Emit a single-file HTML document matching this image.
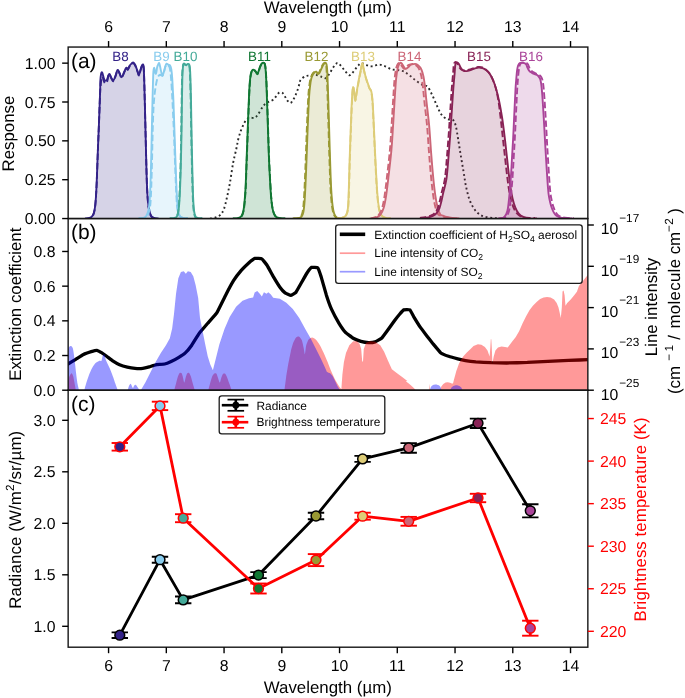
<!DOCTYPE html>
<html lang="en">
<head>
<meta charset="utf-8">
<title>Figure</title>
<style>html,body{margin:0;padding:0;background:#fff}svg{display:block}</style>
</head>
<body>
<svg width="685" height="698" viewBox="0 0 685 698" font-family='"Liberation Sans", Arial, Helvetica, sans-serif' text-rendering="geometricPrecision">
<rect x="0" y="0" width="685" height="698" fill="#fff"/>
<defs>
<clipPath id="ca"><rect x="68.15" y="47.05" width="519.7" height="171.5"/></clipPath>
<clipPath id="cb"><rect x="68.15" y="218.55" width="519.7" height="171.65"/></clipPath>
<clipPath id="cc"><rect x="68.15" y="390.2" width="519.7" height="257"/></clipPath>
</defs>
<g clip-path="url(#ca)">
<path d="M210.04,218.61 C210.87,218.44 213.38,218.19 215.05,217.6 C216.73,217.02 218.61,216.48 220.07,215.1 C221.53,213.72 222.66,212.38 223.83,209.33 C225,206.27 226.05,201.38 227.09,196.78 C228.14,192.18 229.1,187.37 230.11,181.73 C231.11,176.08 232.08,168.37 233.12,162.91 C234.15,157.46 235.44,152.97 236.3,149 C237.16,145.03 237.53,142.17 238.3,139.1 C239.07,136.03 239.88,133.33 240.9,130.6 C241.92,127.87 243.3,124.67 244.4,122.7 C245.5,120.73 246.45,119.62 247.5,118.8 C248.55,117.98 249.5,117.97 250.7,117.8 C251.9,117.63 253.48,118.37 254.7,117.8 C255.92,117.23 256.68,116.22 258,114.4 C259.32,112.58 261.3,108.73 262.6,106.9 C263.9,105.07 264.72,104.27 265.8,103.4 C266.88,102.53 267.88,102.32 269.1,101.7 C270.32,101.08 271.88,100.65 273.1,99.7 C274.32,98.75 275.38,97.17 276.4,96 C277.42,94.83 278.22,93.25 279.2,92.7 C280.18,92.15 281.35,92.08 282.3,92.7 C283.25,93.32 284.07,95.12 284.9,96.4 C285.73,97.68 286.38,99.3 287.3,100.4 C288.22,101.5 289.42,103.12 290.4,103 C291.38,102.88 292.37,100.95 293.2,99.7 C294.03,98.45 294.7,97.03 295.4,95.5 C296.1,93.97 296.73,92.43 297.4,90.5 C298.07,88.57 298.85,85.68 299.4,83.9 C299.95,82.12 299.68,81.08 300.7,79.8 C301.72,78.52 303.92,76.92 305.5,76.2 C307.08,75.48 308.42,75.7 310.2,75.5 C311.98,75.3 314.22,74.75 316.2,75 C318.18,75.25 320.52,76.48 322.1,77 C323.68,77.52 324.5,78.62 325.7,78.1 C326.9,77.58 328.1,75.6 329.3,73.9 C330.5,72.2 331.78,69.57 332.9,67.9 C334.02,66.23 335.14,64.71 336,63.9 C336.86,63.09 337.18,62.66 338.06,63.06 C338.95,63.47 340.15,64.99 341.32,66.32 C342.5,67.66 343.83,69.63 345.09,71.09 C346.34,72.55 347.81,74.6 348.85,75.11 C349.9,75.61 350.4,74.94 351.36,74.1 C352.32,73.27 353.49,71.51 354.62,70.09 C355.75,68.67 357,66.74 358.13,65.57 C359.26,64.4 360.02,63.15 361.39,63.06 C362.77,62.98 364.61,64.53 366.41,65.07 C368.21,65.61 370.09,66.41 372.18,66.32 C374.27,66.24 376.78,64.57 378.96,64.57 C381.13,64.57 383.14,65.53 385.23,66.32 C387.32,67.12 389.41,68.71 391.5,69.34 C393.59,69.96 395.68,69.71 397.77,70.09 C399.86,70.46 401.95,70.59 404.04,71.59 C406.13,72.6 408.23,74.52 410.32,76.11 C412.41,77.7 414.5,79.62 416.59,81.13 C418.68,82.63 421.04,84.21 422.86,85.14 C424.68,86.07 425.96,85.09 427.5,86.7 C429.04,88.31 430.55,91.7 432.1,94.8 C433.65,97.9 435.25,102.02 436.8,105.3 C438.35,108.58 439.67,112.18 441.4,114.5 C443.13,116.82 445.27,118.3 447.2,119.2 C449.13,120.1 451.57,118.75 453,119.9 C454.43,121.05 454.95,122.93 455.8,126.1 C456.65,129.27 457.28,134.07 458.1,138.9 C458.92,143.73 459.8,149.68 460.7,155.1 C461.6,160.52 462.65,166.37 463.5,171.4 C464.35,176.43 464.83,180.67 465.8,185.3 C466.77,189.93 467.95,195.33 469.3,199.2 C470.65,203.07 472.37,206.1 473.9,208.5 C475.43,210.9 476.77,212.25 478.5,213.6 C480.23,214.95 481.97,215.88 484.3,216.6 C486.63,217.32 489.88,217.62 492.5,217.9 C495.12,218.18 498.75,218.23 500,218.3" fill="none" stroke="#2a2a2a" stroke-width="1.9" stroke-dasharray="1.9 2.75" stroke-linecap="butt"/>
<path d="M85,218.4 C85.77,218.32 88.32,218.38 89.6,217.9 C90.88,217.42 91.87,216.88 92.7,215.5 C93.53,214.12 94.08,212.37 94.6,209.6 C95.12,206.83 95.45,203.47 95.8,198.9 C96.15,194.33 96.43,188.17 96.7,182.2 C96.97,176.23 97.17,169.45 97.4,163.1 C97.63,156.75 97.85,150.45 98.1,144.1 C98.35,137.75 98.65,131.35 98.9,125 C99.15,118.65 99.38,111.83 99.6,106 C99.82,100.17 100.09,93.98 100.2,90 C100.31,86.02 100.1,84.77 100.24,82.12 C100.38,79.47 100.72,75.69 101.04,74.09 C101.37,72.48 101.71,71.81 102.17,72.48 C102.62,73.15 103.29,76.77 103.77,78.1 C104.26,79.44 104.52,80.24 105.06,80.51 C105.59,80.78 106.45,80.51 106.99,79.71 C107.52,78.91 107.84,76.63 108.27,75.69 C108.7,74.76 109.02,73.69 109.56,74.09 C110.09,74.49 110.84,77.03 111.48,78.1 C112.13,79.17 112.74,80.91 113.41,80.51 C114.08,80.11 114.81,77.43 115.5,75.69 C116.18,73.95 116.87,70.61 117.51,70.07 C118.15,69.54 118.66,71.28 119.35,72.48 C120.04,73.69 120.88,77.3 121.65,77.3 C122.42,77.3 123.18,74.09 123.95,72.48 C124.71,70.88 125.61,68.2 126.25,67.67 C126.89,67.13 127.27,69.54 127.79,69.27 C128.32,69 128.79,67 129.4,66.06 C130.02,65.12 130.82,64.24 131.49,63.65 C132.16,63.06 132.77,62.26 133.42,62.53 C134.06,62.79 134.67,63.86 135.34,65.26 C136.01,66.65 136.81,69.27 137.43,70.88 C138.05,72.48 138.5,75.16 139.04,74.89 C139.57,74.62 140.11,70.96 140.64,69.27 C141.18,67.58 141.77,65.31 142.25,64.77 C142.73,64.24 143.22,63.95 143.53,66.06 C143.85,68.16 143.93,71.14 144.15,77.4 C144.37,83.66 144.62,94.47 144.85,103.6 C145.08,112.73 145.32,122.67 145.55,132.2 C145.78,141.73 146.02,152.07 146.25,160.8 C146.48,169.53 146.67,177.87 146.95,184.6 C147.23,191.33 147.55,196.83 147.95,201.2 C148.35,205.57 148.8,208.33 149.35,210.8 C149.9,213.27 150.47,214.82 151.25,216 C152.03,217.18 152.85,217.5 154.05,217.9 C155.25,218.3 157.72,218.32 158.45,218.4 L158.45,218.55 L85,218.55 Z" fill="#332288" fill-opacity="0.2" stroke="none"/>
<path d="M138.5,218.3 C139.17,218.25 141.27,218.3 142.5,218 C143.73,217.7 144.9,217.83 145.9,216.5 C146.9,215.17 147.85,213.08 148.5,210 C149.15,206.92 149.4,204.67 149.8,198 C150.2,191.33 150.58,180.5 150.9,170 C151.22,159.5 151.43,146.67 151.7,135 C151.97,123.33 152.28,108.83 152.5,100 C152.72,91.17 152.85,86.75 153,82 C153.15,77.25 153.18,73.87 153.4,71.5 C153.62,69.13 153.97,67.47 154.3,67.8 C154.63,68.13 155.07,72.72 155.4,73.5 C155.73,74.28 156.01,73.52 156.3,72.5 C156.59,71.48 156.83,68.68 157.11,67.4 C157.4,66.12 157.7,65.53 158.04,64.8 C158.38,64.07 158.82,62.72 159.17,63 C159.51,63.28 159.75,65.03 160.09,66.5 C160.43,67.97 160.81,70.27 161.22,71.8 C161.62,73.33 162.1,75.7 162.55,75.7 C162.99,75.7 163.44,73.33 163.88,71.8 C164.32,70.27 164.77,67.85 165.21,66.5 C165.66,65.15 166.02,63.98 166.55,63.7 C167.07,63.42 167.8,64.48 168.39,64.8 C168.98,65.12 169.62,64.88 170.1,65.6 C170.59,66.32 170.95,67.05 171.3,69.1 C171.65,71.15 171.93,74.25 172.2,77.9 C172.47,81.55 172.7,87.32 172.9,91 C173.1,94.68 173.12,92.67 173.4,100 C173.68,107.33 174.2,123.33 174.6,135 C175,146.67 175.4,159.5 175.8,170 C176.2,180.5 176.6,191.08 177,198 C177.4,204.92 177.63,208.4 178.2,211.5 C178.77,214.6 179.47,215.52 180.4,216.6 C181.33,217.68 182.57,217.72 183.8,218 C185.03,218.28 187.13,218.25 187.8,218.3 L187.8,218.55 L138.5,218.55 Z" fill="#88CCEE" fill-opacity="0.2" stroke="none"/>
<path d="M169.8,218.3 C170.47,218.27 172.65,218.37 173.8,218.1 C174.95,217.83 175.93,217.8 176.7,216.7 C177.47,215.6 177.92,214.62 178.4,211.5 C178.88,208.38 179.22,204.92 179.6,198 C179.98,191.08 180.39,180.5 180.7,170 C181.01,159.5 181.26,146.67 181.47,135 C181.68,123.33 181.81,109.5 181.95,100 C182.1,90.5 182.18,83.43 182.34,78 C182.5,72.57 182.68,69.8 182.92,67.4 C183.16,65 183.4,64.12 183.78,63.6 C184.17,63.08 184.76,64.1 185.23,64.3 C185.69,64.5 186.14,64.87 186.58,64.8 C187.01,64.73 187.41,63.98 187.83,63.9 C188.24,63.82 188.74,63.72 189.08,64.3 C189.41,64.88 189.62,65.12 189.85,67.4 C190.07,69.68 190.23,72.57 190.42,78 C190.62,83.43 190.81,90.5 191,100 C191.19,109.5 191.36,123.33 191.58,135 C191.8,146.67 192.09,159.5 192.35,170 C192.61,180.5 192.85,191.08 193.15,198 C193.45,204.92 193.73,208.38 194.15,211.5 C194.57,214.62 194.95,215.6 195.65,216.7 C196.35,217.8 197.23,217.83 198.35,218.1 C199.47,218.37 201.68,218.27 202.35,218.3 L202.35,218.55 L169.8,218.55 Z" fill="#44AA99" fill-opacity="0.2" stroke="none"/>
<path d="M232.8,218.5 C233.65,218.45 236.45,218.62 237.9,218.2 C239.35,217.78 240.58,217.23 241.5,216 C242.42,214.77 242.88,213.27 243.4,210.8 C243.92,208.33 244.23,205.17 244.6,201.2 C244.97,197.23 245.32,192.55 245.6,187 C245.88,181.45 246.07,174.25 246.3,167.9 C246.53,161.55 246.77,155.25 247,148.9 C247.23,142.55 247.47,136.15 247.7,129.8 C247.93,123.45 248.17,116.75 248.4,110.8 C248.63,104.85 248.87,98.87 249.1,94.1 C249.33,89.33 249.52,85.57 249.8,82.2 C250.08,78.83 250.4,75.88 250.8,73.9 C251.2,71.92 251.69,70.98 252.2,70.3 C252.71,69.62 253.28,69.6 253.86,69.8 C254.44,70 255.11,70.82 255.69,71.5 C256.26,72.18 256.83,74.02 257.32,73.9 C257.82,73.78 258.22,72 258.67,70.8 C259.12,69.6 259.52,67.9 260.02,66.7 C260.52,65.5 261.11,64.27 261.65,63.6 C262.2,62.93 262.79,62.7 263.29,62.7 C263.79,62.7 264.27,62.53 264.65,63.6 C265.03,64.67 265.27,66 265.55,69.1 C265.83,72.2 266.1,76.85 266.35,82.2 C266.6,87.55 266.82,94.45 267.05,101.2 C267.28,107.95 267.52,115.55 267.75,122.7 C267.98,129.85 268.22,137.37 268.45,144.1 C268.68,150.83 268.87,156.75 269.15,163.1 C269.43,169.45 269.83,176.63 270.15,182.2 C270.47,187.77 270.7,192.33 271.05,196.5 C271.4,200.67 271.77,204.35 272.25,207.2 C272.73,210.05 273.27,211.97 273.95,213.6 C274.63,215.23 275.28,216.23 276.35,217 C277.42,217.77 278.85,217.95 280.35,218.2 C281.85,218.45 284.52,218.45 285.35,218.5 L285.35,218.55 L232.8,218.55 Z" fill="#117733" fill-opacity="0.2" stroke="none"/>
<path d="M293.5,218.5 C294.35,218.45 297.27,218.5 298.6,218.2 C299.93,217.9 300.7,217.73 301.5,216.7 C302.3,215.67 302.88,214.58 303.4,212 C303.92,209.42 304.25,205.77 304.6,201.2 C304.95,196.63 305.22,190.55 305.5,184.6 C305.78,178.65 306.05,171.85 306.3,165.5 C306.55,159.15 306.77,152.85 307,146.5 C307.23,140.15 307.47,133.35 307.7,127.4 C307.93,121.45 308.17,115.95 308.4,110.8 C308.63,105.65 308.82,100.67 309.1,96.5 C309.38,92.33 309.73,88.78 310.1,85.8 C310.47,82.82 310.84,80.47 311.3,78.6 C311.76,76.73 312.32,75.67 312.88,74.6 C313.45,73.53 314.13,72.68 314.7,72.2 C315.28,71.72 315.79,71.47 316.33,71.7 C316.88,71.93 317.47,73.37 317.96,73.6 C318.46,73.83 318.86,73.65 319.3,73.1 C319.75,72.55 320.15,71.37 320.65,70.3 C321.14,69.23 321.73,67.77 322.28,66.7 C322.82,65.63 323.4,64.57 323.9,63.9 C324.41,63.23 324.87,62.63 325.3,62.7 C325.73,62.77 326.18,63.03 326.5,64.3 C326.82,65.57 327,67.32 327.2,70.3 C327.4,73.28 327.5,76.65 327.7,82.2 C327.9,87.75 328.17,96.07 328.4,103.6 C328.63,111.13 328.87,119.47 329.1,127.4 C329.33,135.33 329.57,143.65 329.8,151.2 C330.03,158.75 330.27,166.35 330.5,172.7 C330.73,179.05 330.92,184.35 331.2,189.3 C331.48,194.25 331.83,198.82 332.2,202.4 C332.57,205.98 332.93,208.62 333.4,210.8 C333.87,212.98 334.33,214.32 335,215.5 C335.67,216.68 336.23,217.4 337.4,217.9 C338.57,218.4 341.23,218.4 342,218.5 L342,218.55 L293.5,218.55 Z" fill="#999933" fill-opacity="0.2" stroke="none"/>
<path d="M336.9,218.4 C337.7,218.32 340.2,218.38 341.7,217.9 C343.2,217.42 344.87,217.08 345.9,215.5 C346.93,213.92 347.42,212.77 347.9,208.4 C348.38,204.03 348.52,197.23 348.8,189.3 C349.08,181.37 349.3,170.32 349.6,160.8 C349.9,151.28 350.28,140.93 350.6,132.2 C350.92,123.47 351.2,115.15 351.5,108.4 C351.8,101.65 352.13,95.27 352.4,91.7 C352.67,88.13 352.83,87 353.1,87 C353.37,87 353.65,89.4 354,91.7 C354.35,94 354.75,100.8 355.2,100.8 C355.65,100.8 356.1,95.2 356.7,91.7 C357.3,88.2 358.13,83.37 358.8,79.8 C359.47,76.23 360.1,73.05 360.7,70.3 C361.3,67.55 361.88,63.5 362.4,63.3 C362.92,63.1 363.28,66.95 363.8,69.1 C364.32,71.25 364.9,74.02 365.5,76.2 C366.1,78.38 366.73,80.22 367.4,82.2 C368.07,84.18 368.83,86.52 369.5,88.1 C370.17,89.68 370.88,89.52 371.4,91.7 C371.92,93.88 372.23,96.43 372.6,101.2 C372.97,105.97 373.23,112.75 373.6,120.3 C373.97,127.85 374.37,137.38 374.8,146.5 C375.23,155.62 375.73,166.67 376.2,175 C376.67,183.33 377.08,190.73 377.6,196.5 C378.12,202.27 378.62,206.43 379.3,209.6 C379.98,212.77 380.63,214.12 381.7,215.5 C382.77,216.88 384.17,217.42 385.7,217.9 C387.23,218.38 390.03,218.32 390.9,218.4 L390.9,218.55 L336.9,218.55 Z" fill="#DDCC77" fill-opacity="0.2" stroke="none"/>
<path d="M371.33,218.61 C372.29,218.36 375.55,217.81 377.1,217.1 C378.65,216.39 379.53,215.85 380.61,214.34 C381.7,212.84 382.7,211.21 383.62,208.07 C384.54,204.93 385.3,200.96 386.13,195.53 C386.97,190.09 387.76,182.98 388.63,175.46 C389.51,167.93 390.64,158.73 391.38,150.37 C392.13,142.01 392.56,133.64 393.1,125.28 C393.64,116.92 394.1,107.93 394.61,100.19 C395.11,92.46 395.57,84.3 396.11,78.87 C396.65,73.43 397.28,70.13 397.87,67.58 C398.45,65.03 399.04,64.32 399.62,63.56 C400.21,62.81 400.75,62.65 401.38,63.06 C402.01,63.48 402.69,65.11 403.39,66.07 C404.08,67.04 404.8,68.58 405.54,68.83 C406.27,69.08 406.96,68.21 407.78,67.58 C408.61,66.95 409.54,65.66 410.48,65.07 C411.42,64.48 412.45,64.23 413.4,64.07 C414.35,63.9 415.26,63.73 416.19,64.07 C417.11,64.4 418.07,65.15 418.95,66.07 C419.82,66.99 420.7,67.87 421.45,69.59 C422.21,71.3 422.88,73.56 423.46,76.36 C424.05,79.16 424.46,82.21 424.97,86.39 C425.47,90.58 425.78,94.97 426.47,101.45 C427.16,107.93 428.35,116.71 429.13,125.28 C429.9,133.85 430.47,144.31 431.13,152.88 C431.8,161.45 432.47,169.81 433.14,176.71 C433.81,183.61 434.44,189.25 435.15,194.27 C435.86,199.29 436.57,203.47 437.41,206.82 C438.24,210.16 439.26,212.88 440.17,214.34 C441.07,215.81 441.75,215.16 442.85,215.6 C443.95,216.04 445.18,216.62 446.75,217 C448.32,217.38 450.17,217.67 452.25,217.9 C454.33,218.13 458.08,218.32 459.25,218.4 L459.25,218.55 L371.33,218.55 Z" fill="#CC6677" fill-opacity="0.2" stroke="none"/>
<path d="M421.4,218.5 C422.32,218.38 425,218.22 426.9,217.8 C428.8,217.38 431.18,216.78 432.8,216 C434.42,215.22 435.48,214.42 436.6,213.1 C437.72,211.78 438.68,210.15 439.5,208.1 C440.32,206.05 440.88,203.32 441.5,200.8 C442.12,198.28 442.38,196.6 443.2,193 C444.02,189.4 445.54,185.07 446.41,179.22 C447.28,173.37 447.79,165.21 448.42,157.9 C449.05,150.58 449.63,142.84 450.18,135.32 C450.72,127.79 451.18,120.26 451.68,112.74 C452.18,105.21 452.69,96.85 453.19,90.16 C453.69,83.47 454.32,76.86 454.69,72.6 C455.06,68.33 454.99,66.24 455.4,64.57 C455.81,62.9 456.57,62.65 457.15,62.56 C457.74,62.48 458.28,63.15 458.91,64.07 C459.54,64.99 460.16,66.99 460.92,68.08 C461.67,69.17 462.46,70.09 463.43,70.59 C464.39,71.09 465.52,71.17 466.69,71.09 C467.86,71.01 469.15,70.51 470.45,70.09 C471.75,69.67 473.1,69 474.48,68.58 C475.86,68.16 477.38,67.66 478.73,67.58 C480.07,67.5 481.32,67.66 482.55,68.08 C483.77,68.5 484.89,69.17 486.06,70.09 C487.23,71.01 488.4,71.93 489.57,73.6 C490.74,75.27 491.95,77.45 493.08,80.12 C494.21,82.8 495.3,85.98 496.34,89.66 C497.39,93.34 498.39,97.52 499.35,102.2 C500.32,106.88 501.24,112.03 502.11,117.75 C502.99,123.48 503.83,130.09 504.62,136.57 C505.42,143.05 506.13,149.95 506.88,156.64 C507.63,163.33 508.39,170.65 509.14,176.71 C509.89,182.77 510.6,188.54 511.4,193.02 C512.19,197.49 512.99,200.54 513.91,203.55 C514.83,206.57 515.79,209.07 516.92,211.08 C518.05,213.09 519.22,214.47 520.68,215.6 C522.14,216.73 523.94,217.35 525.7,217.85 C527.45,218.36 529.35,218.5 531.22,218.61 C533.08,218.72 535.95,218.52 536.9,218.5 L536.9,218.55 L421.4,218.55 Z" fill="#882255" fill-opacity="0.2" stroke="none"/>
<path d="M498,218.4 C498.85,218.32 501.73,218.58 503.1,217.9 C504.47,217.22 505.4,215.88 506.2,214.3 C507,212.72 507.35,211.77 507.9,208.4 C508.45,205.03 508.98,199.67 509.5,194.1 C510.02,188.53 510.57,181.35 511,175 C511.43,168.65 511.75,161.95 512.1,156 C512.45,150.05 512.78,145.25 513.1,139.3 C513.42,133.35 513.72,126.25 514,120.3 C514.28,114.35 514.55,108.77 514.8,103.6 C515.05,98.43 515.27,93.27 515.5,89.3 C515.73,85.33 515.93,82.97 516.2,79.8 C516.47,76.63 516.78,72.68 517.1,70.3 C517.42,67.92 517.65,66.7 518.1,65.5 C518.55,64.3 519.13,63.57 519.8,63.1 C520.47,62.63 521.32,62.7 522.1,62.7 C522.88,62.7 523.82,62.78 524.5,63.1 C525.18,63.42 525.68,63.8 526.2,64.6 C526.72,65.4 527.08,66.87 527.6,67.9 C528.12,68.93 528.62,70 529.3,70.8 C529.98,71.6 530.92,72.18 531.7,72.7 C532.48,73.22 533.22,73.58 534,73.9 C534.78,74.22 535.68,74.25 536.4,74.6 C537.12,74.95 537.7,75.33 538.3,76 C538.9,76.67 539.55,77.48 540,78.6 C540.45,79.72 540.72,81.12 541,82.7 C541.28,84.28 541.47,85.8 541.7,88.1 C541.93,90.4 542.17,93.32 542.4,96.5 C542.63,99.68 542.78,102.05 543.1,107.2 C543.42,112.35 543.95,121.25 544.3,127.4 C544.65,133.55 544.88,138.53 545.2,144.1 C545.52,149.67 545.83,154.85 546.2,160.8 C546.57,166.75 547,174.25 547.4,179.8 C547.8,185.35 548.13,190.32 548.6,194.1 C549.07,197.88 549.63,200.1 550.2,202.5 C550.77,204.9 551.37,206.78 552,208.5 C552.63,210.22 553.25,211.58 554,212.8 C554.75,214.02 555.42,215 556.5,215.8 C557.58,216.6 558.92,217.18 560.5,217.6 C562.08,218.02 564.08,218.15 566,218.3 C567.92,218.45 571,218.47 572,218.5 L572,218.55 L498,218.55 Z" fill="#AA4499" fill-opacity="0.2" stroke="none"/>
<path d="M85,218.4 C85.77,218.32 88.32,218.38 89.6,217.9 C90.88,217.42 91.87,216.88 92.7,215.5 C93.53,214.12 94.08,212.37 94.6,209.6 C95.12,206.83 95.45,203.47 95.8,198.9 C96.15,194.33 96.43,188.17 96.7,182.2 C96.97,176.23 97.17,169.45 97.4,163.1 C97.63,156.75 97.85,150.45 98.1,144.1 C98.35,137.75 98.65,131.35 98.9,125 C99.15,118.65 99.38,111.83 99.6,106 C99.82,100.17 100.09,93.98 100.2,90 C100.31,86.02 100.1,84.77 100.24,82.12 C100.38,79.47 100.72,75.69 101.04,74.09 C101.37,72.48 101.71,71.81 102.17,72.48 C102.62,73.15 103.29,76.77 103.77,78.1 C104.26,79.44 104.52,80.24 105.06,80.51 C105.59,80.78 106.45,80.51 106.99,79.71 C107.52,78.91 107.84,76.63 108.27,75.69 C108.7,74.76 109.02,73.69 109.56,74.09 C110.09,74.49 110.84,77.03 111.48,78.1 C112.13,79.17 112.74,80.91 113.41,80.51 C114.08,80.11 114.81,77.43 115.5,75.69 C116.18,73.95 116.87,70.61 117.51,70.07 C118.15,69.54 118.66,71.28 119.35,72.48 C120.04,73.69 120.88,77.3 121.65,77.3 C122.42,77.3 123.18,74.09 123.95,72.48 C124.71,70.88 125.61,68.2 126.25,67.67 C126.89,67.13 127.27,69.54 127.79,69.27 C128.32,69 128.79,67 129.4,66.06 C130.02,65.12 130.82,64.24 131.49,63.65 C132.16,63.06 132.77,62.26 133.42,62.53 C134.06,62.79 134.67,63.86 135.34,65.26 C136.01,66.65 136.81,69.27 137.43,70.88 C138.05,72.48 138.5,75.16 139.04,74.89 C139.57,74.62 140.11,70.96 140.64,69.27 C141.18,67.58 141.77,65.31 142.25,64.77 C142.73,64.24 143.22,63.95 143.53,66.06 C143.85,68.16 143.93,71.14 144.15,77.4 C144.37,83.66 144.62,94.47 144.85,103.6 C145.08,112.73 145.32,122.67 145.55,132.2 C145.78,141.73 146.02,152.07 146.25,160.8 C146.48,169.53 146.67,177.87 146.95,184.6 C147.23,191.33 147.55,196.83 147.95,201.2 C148.35,205.57 148.8,208.33 149.35,210.8 C149.9,213.27 150.47,214.82 151.25,216 C152.03,217.18 152.85,217.5 154.05,217.9 C155.25,218.3 157.72,218.32 158.45,218.4" fill="none" stroke="#332288" stroke-width="1.9" stroke-linejoin="round"/>
<path d="M85,219 C85.77,218.92 88.32,218.98 89.6,218.5 C90.88,218.02 91.87,217.48 92.7,216.1 C93.53,214.72 94.08,212.97 94.6,210.2 C95.12,207.43 95.45,204.07 95.8,199.5 C96.15,194.93 96.43,188.77 96.7,182.8 C96.97,176.83 97.17,170.05 97.4,163.7 C97.63,157.35 97.85,151.05 98.1,144.7 C98.35,138.35 98.65,131.95 98.9,125.6 C99.15,119.25 99.38,112.43 99.6,106.6 C99.82,100.77 100.04,93.75 100.2,90.6 C100.36,87.45 100.35,89.58 100.54,87.67 C100.73,85.77 101.02,80.96 101.34,79.16 C101.67,77.36 102.01,76.49 102.47,76.88 C102.92,77.28 103.59,80.49 104.07,81.54 C104.56,82.59 104.82,83.23 105.36,83.18 C105.89,83.12 106.8,82.36 107.29,81.22 C107.77,80.07 107.89,77.38 108.27,76.29 C108.65,75.21 109.02,74.29 109.56,74.69 C110.09,75.09 110.84,77.63 111.48,78.7 C112.13,79.77 112.74,81.51 113.41,81.11 C114.08,80.71 114.81,78.03 115.5,76.29 C116.18,74.55 116.87,71.21 117.51,70.67 C118.15,70.14 118.66,71.88 119.35,73.08 C120.04,74.29 120.88,77.9 121.65,77.9 C122.42,77.9 123.18,74.69 123.95,73.08 C124.71,71.48 125.61,68.8 126.25,68.27 C126.89,67.73 127.27,70.14 127.79,69.87 C128.32,69.6 128.79,67.6 129.4,66.66 C130.02,65.72 130.82,64.84 131.49,64.25 C132.16,63.66 132.77,62.86 133.42,63.13 C134.06,63.39 134.67,64.46 135.34,65.86 C136.01,67.25 136.81,69.87 137.43,71.48 C138.05,73.08 138.5,75.76 139.04,75.49 C139.57,75.22 140.11,71.56 140.64,69.87 C141.18,68.18 141.77,65.91 142.25,65.37 C142.73,64.84 143.22,64.55 143.53,66.66 C143.85,68.76 143.93,71.74 144.15,78 C144.37,84.26 144.62,95.07 144.85,104.2 C145.08,113.33 145.32,123.27 145.55,132.8 C145.78,142.33 146.02,152.67 146.25,161.4 C146.48,170.13 146.67,178.47 146.95,185.2 C147.23,191.93 147.55,197.43 147.95,201.8 C148.35,206.17 148.8,208.93 149.35,211.4 C149.9,213.87 150.47,215.42 151.25,216.6 C152.03,217.78 152.85,218.1 154.05,218.5 C155.25,218.9 157.72,218.92 158.45,219" fill="none" stroke="#332288" stroke-width="1.9" stroke-dasharray="6.5 2.8" stroke-linejoin="round"/>
<path d="M138.5,218.3 C139.17,218.25 141.27,218.3 142.5,218 C143.73,217.7 144.9,217.83 145.9,216.5 C146.9,215.17 147.85,213.08 148.5,210 C149.15,206.92 149.4,204.67 149.8,198 C150.2,191.33 150.58,180.5 150.9,170 C151.22,159.5 151.43,146.67 151.7,135 C151.97,123.33 152.28,108.83 152.5,100 C152.72,91.17 152.85,86.75 153,82 C153.15,77.25 153.18,73.87 153.4,71.5 C153.62,69.13 153.97,67.47 154.3,67.8 C154.63,68.13 155.07,72.72 155.4,73.5 C155.73,74.28 156.01,73.52 156.3,72.5 C156.59,71.48 156.83,68.68 157.11,67.4 C157.4,66.12 157.7,65.53 158.04,64.8 C158.38,64.07 158.82,62.72 159.17,63 C159.51,63.28 159.75,65.03 160.09,66.5 C160.43,67.97 160.81,70.27 161.22,71.8 C161.62,73.33 162.1,75.7 162.55,75.7 C162.99,75.7 163.44,73.33 163.88,71.8 C164.32,70.27 164.77,67.85 165.21,66.5 C165.66,65.15 166.02,63.98 166.55,63.7 C167.07,63.42 167.8,64.48 168.39,64.8 C168.98,65.12 169.62,64.88 170.1,65.6 C170.59,66.32 170.95,67.05 171.3,69.1 C171.65,71.15 171.93,74.25 172.2,77.9 C172.47,81.55 172.7,87.32 172.9,91 C173.1,94.68 173.12,92.67 173.4,100 C173.68,107.33 174.2,123.33 174.6,135 C175,146.67 175.4,159.5 175.8,170 C176.2,180.5 176.6,191.08 177,198 C177.4,204.92 177.63,208.4 178.2,211.5 C178.77,214.6 179.47,215.52 180.4,216.6 C181.33,217.68 182.57,217.72 183.8,218 C185.03,218.28 187.13,218.25 187.8,218.3" fill="none" stroke="#88CCEE" stroke-width="1.9" stroke-linejoin="round"/>
<path d="M139.5,218.3 C140.17,218.25 142.27,218.3 143.5,218 C144.73,217.7 145.9,217.83 146.9,216.5 C147.9,215.17 148.85,213.08 149.5,210 C150.15,206.92 150.42,204.67 150.8,198 C151.18,191.33 151.5,180.5 151.8,170 C152.1,159.5 152.33,145 152.6,135 C152.87,125 153.08,116.6 153.4,110 C153.72,103.4 154.1,99.43 154.5,95.4 C154.9,91.37 155.37,88.43 155.8,85.8 C156.23,83.17 156.65,81.22 157.1,79.6 C157.55,77.98 157.98,76.9 158.5,76.1 C159.02,75.3 159.55,74.87 160.2,74.8 C160.85,74.73 161.77,76.2 162.4,75.7 C163.03,75.2 163.52,73.25 164,71.8 C164.48,70.35 164.87,68.13 165.3,67 C165.73,65.87 166.08,65.2 166.6,65 C167.12,64.8 167.9,65.38 168.4,65.8 C168.9,66.22 169.27,66.47 169.6,67.5 C169.93,68.53 170.13,69.92 170.4,72 C170.67,74.08 170.93,76.5 171.2,80 C171.47,83.5 171.75,88.67 172,93 C172.25,97.33 172.37,99 172.7,106 C173.03,113 173.57,124.33 174,135 C174.43,145.67 174.88,159.5 175.3,170 C175.72,180.5 176.08,191.08 176.5,198 C176.92,204.92 177.22,208.4 177.8,211.5 C178.38,214.6 179,215.52 180,216.6 C181,217.68 182.5,217.72 183.8,218 C185.1,218.28 187.13,218.25 187.8,218.3" fill="none" stroke="#88CCEE" stroke-width="1.9" stroke-dasharray="6.5 2.8" stroke-linejoin="round"/>
<path d="M169.8,218.3 C170.47,218.27 172.65,218.37 173.8,218.1 C174.95,217.83 175.93,217.8 176.7,216.7 C177.47,215.6 177.92,214.62 178.4,211.5 C178.88,208.38 179.22,204.92 179.6,198 C179.98,191.08 180.39,180.5 180.7,170 C181.01,159.5 181.26,146.67 181.47,135 C181.68,123.33 181.81,109.5 181.95,100 C182.1,90.5 182.18,83.43 182.34,78 C182.5,72.57 182.68,69.8 182.92,67.4 C183.16,65 183.4,64.12 183.78,63.6 C184.17,63.08 184.76,64.1 185.23,64.3 C185.69,64.5 186.14,64.87 186.58,64.8 C187.01,64.73 187.41,63.98 187.83,63.9 C188.24,63.82 188.74,63.72 189.08,64.3 C189.41,64.88 189.62,65.12 189.85,67.4 C190.07,69.68 190.23,72.57 190.42,78 C190.62,83.43 190.81,90.5 191,100 C191.19,109.5 191.36,123.33 191.58,135 C191.8,146.67 192.09,159.5 192.35,170 C192.61,180.5 192.85,191.08 193.15,198 C193.45,204.92 193.73,208.38 194.15,211.5 C194.57,214.62 194.95,215.6 195.65,216.7 C196.35,217.8 197.23,217.83 198.35,218.1 C199.47,218.37 201.68,218.27 202.35,218.3" fill="none" stroke="#44AA99" stroke-width="1.9" stroke-linejoin="round"/>
<path d="M169.5,218.8 C170.17,218.77 172.35,218.87 173.5,218.6 C174.65,218.33 175.63,218.3 176.4,217.2 C177.17,216.1 177.62,215.12 178.1,212 C178.58,208.88 178.92,205.42 179.3,198.5 C179.68,191.58 180.09,181 180.4,170.5 C180.71,160 180.96,147.17 181.17,135.5 C181.38,123.83 181.51,110 181.65,100.5 C181.8,91 181.88,83.93 182.04,78.5 C182.2,73.07 182.38,70.3 182.62,67.9 C182.86,65.5 183.1,64.62 183.48,64.1 C183.87,63.58 184.46,64.6 184.93,64.8 C185.39,65 185.84,65.37 186.28,65.3 C186.71,65.23 187.11,64.48 187.53,64.4 C187.94,64.32 188.44,64.22 188.78,64.8 C189.11,65.38 189.32,65.62 189.55,67.9 C189.77,70.18 189.93,73.07 190.12,78.5 C190.32,83.93 190.51,91 190.7,100.5 C190.89,110 191.06,123.83 191.28,135.5 C191.5,147.17 191.79,160 192.05,170.5 C192.31,181 192.55,191.58 192.85,198.5 C193.15,205.42 193.43,208.88 193.85,212 C194.27,215.12 194.65,216.1 195.35,217.2 C196.05,218.3 196.93,218.33 198.05,218.6 C199.17,218.87 201.38,218.77 202.05,218.8" fill="none" stroke="#44AA99" stroke-width="1.9" stroke-dasharray="6.5 2.8" stroke-linejoin="round"/>
<path d="M232.8,218.5 C233.65,218.45 236.45,218.62 237.9,218.2 C239.35,217.78 240.58,217.23 241.5,216 C242.42,214.77 242.88,213.27 243.4,210.8 C243.92,208.33 244.23,205.17 244.6,201.2 C244.97,197.23 245.32,192.55 245.6,187 C245.88,181.45 246.07,174.25 246.3,167.9 C246.53,161.55 246.77,155.25 247,148.9 C247.23,142.55 247.47,136.15 247.7,129.8 C247.93,123.45 248.17,116.75 248.4,110.8 C248.63,104.85 248.87,98.87 249.1,94.1 C249.33,89.33 249.52,85.57 249.8,82.2 C250.08,78.83 250.4,75.88 250.8,73.9 C251.2,71.92 251.69,70.98 252.2,70.3 C252.71,69.62 253.28,69.6 253.86,69.8 C254.44,70 255.11,70.82 255.69,71.5 C256.26,72.18 256.83,74.02 257.32,73.9 C257.82,73.78 258.22,72 258.67,70.8 C259.12,69.6 259.52,67.9 260.02,66.7 C260.52,65.5 261.11,64.27 261.65,63.6 C262.2,62.93 262.79,62.7 263.29,62.7 C263.79,62.7 264.27,62.53 264.65,63.6 C265.03,64.67 265.27,66 265.55,69.1 C265.83,72.2 266.1,76.85 266.35,82.2 C266.6,87.55 266.82,94.45 267.05,101.2 C267.28,107.95 267.52,115.55 267.75,122.7 C267.98,129.85 268.22,137.37 268.45,144.1 C268.68,150.83 268.87,156.75 269.15,163.1 C269.43,169.45 269.83,176.63 270.15,182.2 C270.47,187.77 270.7,192.33 271.05,196.5 C271.4,200.67 271.77,204.35 272.25,207.2 C272.73,210.05 273.27,211.97 273.95,213.6 C274.63,215.23 275.28,216.23 276.35,217 C277.42,217.77 278.85,217.95 280.35,218.2 C281.85,218.45 284.52,218.45 285.35,218.5" fill="none" stroke="#117733" stroke-width="1.9" stroke-linejoin="round"/>
<path d="M232.95,218.8 C233.8,218.75 236.6,218.92 238.05,218.5 C239.5,218.08 240.73,217.53 241.65,216.3 C242.57,215.07 243.03,213.57 243.55,211.1 C244.07,208.63 244.38,205.47 244.75,201.5 C245.12,197.53 245.47,192.85 245.75,187.3 C246.03,181.75 246.22,174.55 246.45,168.2 C246.68,161.85 246.92,155.55 247.15,149.2 C247.38,142.85 247.62,136.45 247.85,130.1 C248.08,123.75 248.32,117.05 248.55,111.1 C248.78,105.15 249.02,99.17 249.25,94.4 C249.48,89.63 249.67,85.87 249.95,82.5 C250.23,79.13 250.55,76.18 250.95,74.2 C251.35,72.22 251.84,71.28 252.35,70.6 C252.86,69.92 253.43,69.9 254.01,70.1 C254.59,70.3 255.26,71.12 255.84,71.8 C256.42,72.48 256.98,74.32 257.47,74.2 C257.97,74.08 258.37,72.3 258.82,71.1 C259.27,69.9 259.67,68.2 260.17,67 C260.67,65.8 261.26,64.57 261.8,63.9 C262.35,63.23 262.94,63 263.44,63 C263.94,63 264.42,62.83 264.8,63.9 C265.18,64.97 265.42,66.3 265.7,69.4 C265.98,72.5 266.25,77.15 266.5,82.5 C266.75,87.85 266.97,94.75 267.2,101.5 C267.43,108.25 267.67,115.85 267.9,123 C268.13,130.15 268.37,137.67 268.6,144.4 C268.83,151.13 269.02,157.05 269.3,163.4 C269.58,169.75 269.98,176.93 270.3,182.5 C270.62,188.07 270.85,192.63 271.2,196.8 C271.55,200.97 271.92,204.65 272.4,207.5 C272.88,210.35 273.42,212.27 274.1,213.9 C274.78,215.53 275.43,216.53 276.5,217.3 C277.57,218.07 279,218.25 280.5,218.5 C282,218.75 284.67,218.75 285.5,218.8" fill="none" stroke="#117733" stroke-width="1.9" stroke-dasharray="6.5 2.8" stroke-linejoin="round"/>
<path d="M293.5,218.5 C294.35,218.45 297.27,218.5 298.6,218.2 C299.93,217.9 300.7,217.73 301.5,216.7 C302.3,215.67 302.88,214.58 303.4,212 C303.92,209.42 304.25,205.77 304.6,201.2 C304.95,196.63 305.22,190.55 305.5,184.6 C305.78,178.65 306.05,171.85 306.3,165.5 C306.55,159.15 306.77,152.85 307,146.5 C307.23,140.15 307.47,133.35 307.7,127.4 C307.93,121.45 308.17,115.95 308.4,110.8 C308.63,105.65 308.82,100.67 309.1,96.5 C309.38,92.33 309.73,88.78 310.1,85.8 C310.47,82.82 310.84,80.47 311.3,78.6 C311.76,76.73 312.32,75.67 312.88,74.6 C313.45,73.53 314.13,72.68 314.7,72.2 C315.28,71.72 315.79,71.47 316.33,71.7 C316.88,71.93 317.47,73.37 317.96,73.6 C318.46,73.83 318.86,73.65 319.3,73.1 C319.75,72.55 320.15,71.37 320.65,70.3 C321.14,69.23 321.73,67.77 322.28,66.7 C322.82,65.63 323.4,64.57 323.9,63.9 C324.41,63.23 324.87,62.63 325.3,62.7 C325.73,62.77 326.18,63.03 326.5,64.3 C326.82,65.57 327,67.32 327.2,70.3 C327.4,73.28 327.5,76.65 327.7,82.2 C327.9,87.75 328.17,96.07 328.4,103.6 C328.63,111.13 328.87,119.47 329.1,127.4 C329.33,135.33 329.57,143.65 329.8,151.2 C330.03,158.75 330.27,166.35 330.5,172.7 C330.73,179.05 330.92,184.35 331.2,189.3 C331.48,194.25 331.83,198.82 332.2,202.4 C332.57,205.98 332.93,208.62 333.4,210.8 C333.87,212.98 334.33,214.32 335,215.5 C335.67,216.68 336.23,217.4 337.4,217.9 C338.57,218.4 341.23,218.4 342,218.5" fill="none" stroke="#999933" stroke-width="1.9" stroke-linejoin="round"/>
<path d="M292.7,218.5 C293.55,218.45 296.47,218.5 297.8,218.2 C299.13,217.9 299.9,217.73 300.7,216.7 C301.5,215.67 302.08,214.58 302.6,212 C303.12,209.42 303.45,205.77 303.8,201.2 C304.15,196.63 304.42,190.55 304.7,184.6 C304.98,178.65 305.25,171.85 305.5,165.5 C305.75,159.15 305.97,152.85 306.2,146.5 C306.43,140.15 306.67,133.35 306.9,127.4 C307.13,121.45 307.37,115.95 307.6,110.8 C307.83,105.65 308.02,100.67 308.3,96.5 C308.58,92.33 308.93,88.78 309.3,85.8 C309.67,82.82 310.04,80.47 310.5,78.6 C310.96,76.73 311.52,75.67 312.08,74.6 C312.65,73.53 313.3,72.68 313.9,72.2 C314.51,71.72 315.16,71.47 315.73,71.7 C316.31,71.93 316.87,73.37 317.36,73.6 C317.86,73.83 318.26,73.65 318.7,73.1 C319.15,72.55 319.55,71.37 320.05,70.3 C320.54,69.23 321.13,67.77 321.68,66.7 C322.22,65.63 322.8,64.57 323.3,63.9 C323.81,63.23 324.27,62.63 324.7,62.7 C325.13,62.77 325.58,63.03 325.9,64.3 C326.22,65.57 326.4,67.32 326.6,70.3 C326.8,73.28 326.9,76.65 327.1,82.2 C327.3,87.75 327.57,96.07 327.8,103.6 C328.03,111.13 328.27,119.47 328.5,127.4 C328.73,135.33 328.97,143.65 329.2,151.2 C329.43,158.75 329.67,166.35 329.9,172.7 C330.13,179.05 330.32,184.35 330.6,189.3 C330.88,194.25 331.23,198.82 331.6,202.4 C331.97,205.98 332.33,208.62 332.8,210.8 C333.27,212.98 333.73,214.32 334.4,215.5 C335.07,216.68 335.63,217.4 336.8,217.9 C337.97,218.4 340.63,218.4 341.4,218.5" fill="none" stroke="#999933" stroke-width="1.9" stroke-dasharray="6.5 2.8" stroke-linejoin="round"/>
<path d="M336.9,218.4 C337.7,218.32 340.2,218.38 341.7,217.9 C343.2,217.42 344.87,217.08 345.9,215.5 C346.93,213.92 347.42,212.77 347.9,208.4 C348.38,204.03 348.52,197.23 348.8,189.3 C349.08,181.37 349.3,170.32 349.6,160.8 C349.9,151.28 350.28,140.93 350.6,132.2 C350.92,123.47 351.2,115.15 351.5,108.4 C351.8,101.65 352.13,95.27 352.4,91.7 C352.67,88.13 352.83,87 353.1,87 C353.37,87 353.65,89.4 354,91.7 C354.35,94 354.75,100.8 355.2,100.8 C355.65,100.8 356.1,95.2 356.7,91.7 C357.3,88.2 358.13,83.37 358.8,79.8 C359.47,76.23 360.1,73.05 360.7,70.3 C361.3,67.55 361.88,63.5 362.4,63.3 C362.92,63.1 363.28,66.95 363.8,69.1 C364.32,71.25 364.9,74.02 365.5,76.2 C366.1,78.38 366.73,80.22 367.4,82.2 C368.07,84.18 368.83,86.52 369.5,88.1 C370.17,89.68 370.88,89.52 371.4,91.7 C371.92,93.88 372.23,96.43 372.6,101.2 C372.97,105.97 373.23,112.75 373.6,120.3 C373.97,127.85 374.37,137.38 374.8,146.5 C375.23,155.62 375.73,166.67 376.2,175 C376.67,183.33 377.08,190.73 377.6,196.5 C378.12,202.27 378.62,206.43 379.3,209.6 C379.98,212.77 380.63,214.12 381.7,215.5 C382.77,216.88 384.17,217.42 385.7,217.9 C387.23,218.38 390.03,218.32 390.9,218.4" fill="none" stroke="#DDCC77" stroke-width="1.9" stroke-linejoin="round"/>
<path d="M337.1,218.4 C337.9,218.32 340.4,218.38 341.9,217.9 C343.4,217.42 345.07,217.08 346.1,215.5 C347.13,213.92 347.62,212.77 348.1,208.4 C348.58,204.03 348.72,197.23 349,189.3 C349.28,181.37 349.5,170.32 349.8,160.8 C350.1,151.28 350.48,140.93 350.8,132.2 C351.12,123.47 351.4,115.15 351.7,108.4 C352,101.65 352.33,95.27 352.6,91.7 C352.87,88.13 353.03,87 353.3,87 C353.57,87 353.85,89.4 354.2,91.7 C354.55,94 354.95,100.8 355.4,100.8 C355.85,100.8 356.3,95.2 356.9,91.7 C357.5,88.2 358.33,83.37 359,79.8 C359.67,76.23 360.37,73.05 360.9,70.3 C361.43,67.55 361.75,63.5 362.2,63.3 C362.65,63.1 363.08,66.95 363.6,69.1 C364.12,71.25 364.7,74.02 365.3,76.2 C365.9,78.38 366.53,80.22 367.2,82.2 C367.87,84.18 368.63,86.52 369.3,88.1 C369.97,89.68 370.68,89.52 371.2,91.7 C371.72,93.88 372.03,96.43 372.4,101.2 C372.77,105.97 373.03,112.75 373.4,120.3 C373.77,127.85 374.17,137.38 374.6,146.5 C375.03,155.62 375.53,166.67 376,175 C376.47,183.33 376.88,190.73 377.4,196.5 C377.92,202.27 378.42,206.43 379.1,209.6 C379.78,212.77 380.43,214.12 381.5,215.5 C382.57,216.88 383.97,217.42 385.5,217.9 C387.03,218.38 389.83,218.32 390.7,218.4" fill="none" stroke="#DDCC77" stroke-width="1.9" stroke-dasharray="6.5 2.8" stroke-linejoin="round"/>
<path d="M371.33,218.61 C372.29,218.36 375.55,217.81 377.1,217.1 C378.65,216.39 379.53,215.85 380.61,214.34 C381.7,212.84 382.7,211.21 383.62,208.07 C384.54,204.93 385.3,200.96 386.13,195.53 C386.97,190.09 387.76,182.98 388.63,175.46 C389.51,167.93 390.64,158.73 391.38,150.37 C392.13,142.01 392.56,133.64 393.1,125.28 C393.64,116.92 394.1,107.93 394.61,100.19 C395.11,92.46 395.57,84.3 396.11,78.87 C396.65,73.43 397.28,70.13 397.87,67.58 C398.45,65.03 399.04,64.32 399.62,63.56 C400.21,62.81 400.75,62.65 401.38,63.06 C402.01,63.48 402.69,65.11 403.39,66.07 C404.08,67.04 404.8,68.58 405.54,68.83 C406.27,69.08 406.96,68.21 407.78,67.58 C408.61,66.95 409.54,65.66 410.48,65.07 C411.42,64.48 412.45,64.23 413.4,64.07 C414.35,63.9 415.26,63.73 416.19,64.07 C417.11,64.4 418.07,65.15 418.95,66.07 C419.82,66.99 420.7,67.87 421.45,69.59 C422.21,71.3 422.88,73.56 423.46,76.36 C424.05,79.16 424.46,82.21 424.97,86.39 C425.47,90.58 425.78,94.97 426.47,101.45 C427.16,107.93 428.35,116.71 429.13,125.28 C429.9,133.85 430.47,144.31 431.13,152.88 C431.8,161.45 432.47,169.81 433.14,176.71 C433.81,183.61 434.44,189.25 435.15,194.27 C435.86,199.29 436.57,203.47 437.41,206.82 C438.24,210.16 439.26,212.88 440.17,214.34 C441.07,215.81 441.75,215.16 442.85,215.6 C443.95,216.04 445.18,216.62 446.75,217 C448.32,217.38 450.17,217.67 452.25,217.9 C454.33,218.13 458.08,218.32 459.25,218.4" fill="none" stroke="#CC6677" stroke-width="1.9" stroke-linejoin="round"/>
<path d="M369.83,218.61 C370.79,218.36 374.05,217.81 375.6,217.1 C377.15,216.39 378.03,215.85 379.11,214.34 C380.2,212.84 381.2,211.21 382.12,208.07 C383.04,204.93 383.8,200.96 384.63,195.53 C385.47,190.09 386.26,182.98 387.13,175.46 C388.01,167.93 389.14,158.73 389.88,150.37 C390.63,142.01 391.06,133.64 391.6,125.28 C392.14,116.92 392.6,107.93 393.11,100.19 C393.61,92.46 394.07,84.3 394.61,78.87 C395.15,73.43 395.78,70.13 396.37,67.58 C396.95,65.03 397.54,64.32 398.12,63.56 C398.71,62.81 399.25,62.65 399.88,63.06 C400.51,63.48 401.19,65.11 401.89,66.07 C402.58,67.04 403.3,68.58 404.04,68.83 C404.77,69.08 405.56,68.21 406.28,67.58 C407.01,66.95 407.54,65.66 408.38,65.07 C409.22,64.48 410.35,64.23 411.3,64.07 C412.25,63.9 413.16,63.73 414.09,64.07 C415.01,64.4 415.97,65.15 416.85,66.07 C417.72,66.99 418.6,67.87 419.35,69.59 C420.11,71.3 420.78,73.56 421.36,76.36 C421.95,79.16 422.36,82.21 422.87,86.39 C423.37,90.58 423.68,94.97 424.37,101.45 C425.06,107.93 426.25,116.71 427.03,125.28 C427.8,133.85 428.37,144.31 429.03,152.88 C429.7,161.45 430.37,169.81 431.04,176.71 C431.71,183.61 432.34,189.25 433.05,194.27 C433.76,199.29 434.47,203.47 435.31,206.82 C436.14,210.16 437.16,212.88 438.07,214.34 C438.97,215.81 439.65,215.16 440.75,215.6 C441.85,216.04 443.08,216.62 444.65,217 C446.22,217.38 448.07,217.67 450.15,217.9 C452.23,218.13 455.98,218.32 457.15,218.4" fill="none" stroke="#CC6677" stroke-width="1.9" stroke-dasharray="6.5 2.8" stroke-linejoin="round"/>
<path d="M421.4,218.5 C422.32,218.38 425,218.22 426.9,217.8 C428.8,217.38 431.18,216.78 432.8,216 C434.42,215.22 435.48,214.42 436.6,213.1 C437.72,211.78 438.68,210.15 439.5,208.1 C440.32,206.05 440.88,203.32 441.5,200.8 C442.12,198.28 442.38,196.6 443.2,193 C444.02,189.4 445.54,185.07 446.41,179.22 C447.28,173.37 447.79,165.21 448.42,157.9 C449.05,150.58 449.63,142.84 450.18,135.32 C450.72,127.79 451.18,120.26 451.68,112.74 C452.18,105.21 452.69,96.85 453.19,90.16 C453.69,83.47 454.32,76.86 454.69,72.6 C455.06,68.33 454.99,66.24 455.4,64.57 C455.81,62.9 456.57,62.65 457.15,62.56 C457.74,62.48 458.28,63.15 458.91,64.07 C459.54,64.99 460.16,66.99 460.92,68.08 C461.67,69.17 462.46,70.09 463.43,70.59 C464.39,71.09 465.52,71.17 466.69,71.09 C467.86,71.01 469.15,70.51 470.45,70.09 C471.75,69.67 473.1,69 474.48,68.58 C475.86,68.16 477.38,67.66 478.73,67.58 C480.07,67.5 481.32,67.66 482.55,68.08 C483.77,68.5 484.89,69.17 486.06,70.09 C487.23,71.01 488.4,71.93 489.57,73.6 C490.74,75.27 491.95,77.45 493.08,80.12 C494.21,82.8 495.3,85.98 496.34,89.66 C497.39,93.34 498.39,97.52 499.35,102.2 C500.32,106.88 501.24,112.03 502.11,117.75 C502.99,123.48 503.83,130.09 504.62,136.57 C505.42,143.05 506.13,149.95 506.88,156.64 C507.63,163.33 508.39,170.65 509.14,176.71 C509.89,182.77 510.6,188.54 511.4,193.02 C512.19,197.49 512.99,200.54 513.91,203.55 C514.83,206.57 515.79,209.07 516.92,211.08 C518.05,213.09 519.22,214.47 520.68,215.6 C522.14,216.73 523.94,217.35 525.7,217.85 C527.45,218.36 529.35,218.5 531.22,218.61 C533.08,218.72 535.95,218.52 536.9,218.5" fill="none" stroke="#882255" stroke-width="1.9" stroke-linejoin="round"/>
<path d="M419.9,217.9 C420.82,217.78 423.5,217.62 425.4,217.2 C427.3,216.78 429.68,216.18 431.3,215.4 C432.92,214.62 433.98,213.82 435.1,212.5 C436.22,211.18 437.18,209.55 438,207.5 C438.82,205.45 439.38,202.72 440,200.2 C440.62,197.68 440.88,196 441.7,192.4 C442.52,188.8 444.04,184.47 444.91,178.62 C445.78,172.77 446.29,164.61 446.92,157.3 C447.55,149.98 448.13,142.24 448.68,134.72 C449.22,127.19 449.68,119.66 450.18,112.14 C450.68,104.61 451.19,96.25 451.69,89.56 C452.19,82.87 452.82,76.26 453.19,72 C453.56,67.73 453.49,65.64 453.9,63.97 C454.31,62.3 455.07,62.05 455.65,61.96 C456.24,61.88 456.78,62.55 457.41,63.47 C458.04,64.39 458.66,66.39 459.42,67.48 C460.17,68.57 460.96,69.49 461.93,69.99 C462.89,70.49 463.82,70.57 465.19,70.49 C466.56,70.41 468.65,69.91 470.15,69.49 C471.65,69.07 472.8,68.4 474.18,67.98 C475.56,67.56 477.08,67.06 478.43,66.98 C479.77,66.9 481.02,67.06 482.25,67.48 C483.47,67.9 484.59,68.57 485.76,69.49 C486.93,70.41 488.1,71.33 489.27,73 C490.44,74.67 491.65,76.85 492.78,79.52 C493.91,82.2 495.08,85.38 496.04,89.06 C497,92.74 497.8,96.92 498.54,101.6 C499.29,106.28 499.85,111.43 500.53,117.15 C501.21,122.88 501.9,129.49 502.62,135.97 C503.35,142.45 504.13,149.35 504.88,156.04 C505.63,162.73 506.39,170.05 507.14,176.11 C507.89,182.17 508.6,187.94 509.4,192.42 C510.19,196.89 510.99,199.94 511.91,202.95 C512.83,205.97 513.79,208.47 514.92,210.48 C516.05,212.49 517.22,213.87 518.68,215 C520.14,216.13 521.94,216.75 523.7,217.25 C525.45,217.76 527.35,217.9 529.22,218.01 C531.08,218.12 533.95,217.92 534.9,217.9" fill="none" stroke="#882255" stroke-width="1.9" stroke-dasharray="6.5 2.8" stroke-linejoin="round"/>
<path d="M498,218.4 C498.85,218.32 501.73,218.58 503.1,217.9 C504.47,217.22 505.4,215.88 506.2,214.3 C507,212.72 507.35,211.77 507.9,208.4 C508.45,205.03 508.98,199.67 509.5,194.1 C510.02,188.53 510.57,181.35 511,175 C511.43,168.65 511.75,161.95 512.1,156 C512.45,150.05 512.78,145.25 513.1,139.3 C513.42,133.35 513.72,126.25 514,120.3 C514.28,114.35 514.55,108.77 514.8,103.6 C515.05,98.43 515.27,93.27 515.5,89.3 C515.73,85.33 515.93,82.97 516.2,79.8 C516.47,76.63 516.78,72.68 517.1,70.3 C517.42,67.92 517.65,66.7 518.1,65.5 C518.55,64.3 519.13,63.57 519.8,63.1 C520.47,62.63 521.32,62.7 522.1,62.7 C522.88,62.7 523.82,62.78 524.5,63.1 C525.18,63.42 525.68,63.8 526.2,64.6 C526.72,65.4 527.08,66.87 527.6,67.9 C528.12,68.93 528.62,70 529.3,70.8 C529.98,71.6 530.92,72.18 531.7,72.7 C532.48,73.22 533.22,73.58 534,73.9 C534.78,74.22 535.68,74.25 536.4,74.6 C537.12,74.95 537.7,75.33 538.3,76 C538.9,76.67 539.55,77.48 540,78.6 C540.45,79.72 540.72,81.12 541,82.7 C541.28,84.28 541.47,85.8 541.7,88.1 C541.93,90.4 542.17,93.32 542.4,96.5 C542.63,99.68 542.78,102.05 543.1,107.2 C543.42,112.35 543.95,121.25 544.3,127.4 C544.65,133.55 544.88,138.53 545.2,144.1 C545.52,149.67 545.83,154.85 546.2,160.8 C546.57,166.75 547,174.25 547.4,179.8 C547.8,185.35 548.13,190.32 548.6,194.1 C549.07,197.88 549.63,200.1 550.2,202.5 C550.77,204.9 551.37,206.78 552,208.5 C552.63,210.22 553.25,211.58 554,212.8 C554.75,214.02 555.42,215 556.5,215.8 C557.58,216.6 558.92,217.18 560.5,217.6 C562.08,218.02 564.08,218.15 566,218.3 C567.92,218.45 571,218.47 572,218.5" fill="none" stroke="#AA4499" stroke-width="1.9" stroke-linejoin="round"/>
<path d="M499.7,218.1 C500.55,218.02 503.43,218.28 504.8,217.6 C506.17,216.92 507.1,215.58 507.9,214 C508.7,212.42 509.05,211.47 509.6,208.1 C510.15,204.73 510.68,199.37 511.2,193.8 C511.72,188.23 512.27,181.05 512.7,174.7 C513.13,168.35 513.45,161.65 513.8,155.7 C514.15,149.75 514.48,144.95 514.8,139 C515.12,133.05 515.42,125.95 515.7,120 C515.98,114.05 516.25,108.47 516.5,103.3 C516.75,98.13 516.97,92.97 517.2,89 C517.43,85.03 517.63,82.67 517.9,79.5 C518.17,76.33 518.48,72.38 518.8,70 C519.12,67.62 519.35,66.4 519.8,65.2 C520.25,64 520.83,63.27 521.5,62.8 C522.17,62.33 523.02,62.4 523.8,62.4 C524.58,62.4 525.52,62.48 526.2,62.8 C526.88,63.12 527.38,63.5 527.9,64.3 C528.42,65.1 528.78,66.57 529.3,67.6 C529.82,68.63 530.28,69.7 531,70.5 C531.72,71.3 532.78,71.88 533.6,72.4 C534.42,72.92 535.12,73.28 535.9,73.6 C536.68,73.92 537.58,73.95 538.3,74.3 C539.02,74.65 539.6,75.03 540.2,75.7 C540.8,76.37 541.45,77.18 541.9,78.3 C542.35,79.42 542.62,80.82 542.9,82.4 C543.18,83.98 543.37,85.5 543.6,87.8 C543.83,90.1 544.07,93.02 544.3,96.2 C544.53,99.38 544.68,101.75 545,106.9 C545.32,112.05 545.85,120.95 546.2,127.1 C546.55,133.25 546.78,138.23 547.1,143.8 C547.42,149.37 547.73,154.55 548.1,160.5 C548.47,166.45 548.9,173.95 549.3,179.5 C549.7,185.05 550.03,190.02 550.5,193.8 C550.97,197.58 551.53,199.8 552.1,202.2 C552.67,204.6 553.27,206.48 553.9,208.2 C554.53,209.92 555.15,211.28 555.9,212.5 C556.65,213.72 557.32,214.7 558.4,215.5 C559.48,216.3 560.82,216.88 562.4,217.3 C563.98,217.72 565.98,217.85 567.9,218 C569.82,218.15 572.9,218.17 573.9,218.2" fill="none" stroke="#AA4499" stroke-width="1.9" stroke-dasharray="6.5 2.8" stroke-linejoin="round"/>
</g>
<g clip-path="url(#cb)">
<path d="M65.42,365.04 C65.53,365 67.59,364.23 68,364.01 C68.41,363.78 75.12,359.75 75.73,359.37 C76.35,358.99 82.85,354.78 83.47,354.47 C84.09,354.16 90.67,351.8 91.2,351.63 C91.74,351.47 96.46,350.3 96.87,350.34 C97.29,350.39 101.12,352.43 101.51,352.66 C101.91,352.9 106.21,355.93 106.67,356.27 C107.13,356.61 112.6,360.83 113.11,361.17 C113.63,361.51 118.99,364.54 119.56,364.78 C120.13,365.02 126.67,366.96 127.29,367.1 C127.91,367.25 134.41,368.34 135.03,368.39 C135.65,368.44 142.19,368.45 142.76,368.39 C143.33,368.33 148.69,366.99 149.21,366.84 C149.72,366.7 155.03,364.89 155.65,364.78 C156.27,364.67 164.06,364.14 164.67,364.01 C165.29,363.87 170.55,361.7 171.12,361.43 C171.69,361.16 178.29,357.65 178.85,357.3 C179.42,356.96 184.78,353.41 185.3,352.92 C185.81,352.44 191.23,345.91 191.74,345.19 C192.26,344.47 197.86,335.39 198.19,334.88 C198.52,334.36 199.62,332.76 200,332.3 C200.38,331.83 207.06,324.05 207.73,323.28 C208.4,322.5 216.04,314.1 216.76,312.96 C217.48,311.83 225.11,296.21 225.78,294.92 C226.45,293.63 232.9,281.72 233.51,280.74 C234.13,279.76 240.63,271.15 241.25,270.43 C241.87,269.7 248.44,263.18 248.98,262.69 C249.53,262.21 254.4,258.46 254.91,258.31 C255.43,258.16 261.39,258.55 261.87,258.83 C262.36,259.1 266.56,264.55 267.03,265.27 C267.49,265.99 272.96,276 273.47,276.87 C273.99,277.75 279.45,286.54 279.92,287.18 C280.38,287.82 284.64,292.53 285.07,292.86 C285.51,293.19 290.31,295.45 290.75,295.43 C291.18,295.41 295.46,292.88 295.9,292.34 C296.34,291.8 301.39,282.8 301.83,282.03 C302.27,281.25 306.59,273.59 306.99,273 C307.38,272.42 311.19,267.54 311.63,267.33 C312.06,267.13 317.43,267.47 317.81,267.85 C318.2,268.23 320.82,275.79 321.17,276.87 C321.51,277.95 325.91,293.63 326.32,294.92 C326.73,296.21 330.97,307.96 331.48,309.1 C331.99,310.23 338.46,322.35 339.02,323.28 C339.58,324.2 344.9,331.7 345.47,332.3 C346.04,332.9 352.58,337.87 353.2,338.23 C353.82,338.59 360.32,341.15 360.94,341.32 C361.55,341.5 368.1,342.59 368.67,342.61 C369.24,342.63 374.6,342.01 375.11,341.84 C375.63,341.66 381.04,338.71 381.56,338.23 C382.08,337.74 387.49,330.42 388,329.72 C388.52,329.02 393.99,321.32 394.45,320.7 C394.91,320.08 399.23,314.69 399.61,314.25 C399.98,313.82 403.32,310.05 403.73,309.87 C404.14,309.69 409.52,309.59 409.92,309.87 C410.32,310.15 413.37,316.14 413.78,316.83 C414.2,317.52 419.71,326.39 420.23,327.14 C420.75,327.9 426.16,334.98 426.67,335.65 C427.19,336.32 432.55,343.21 433.12,343.9 C433.69,344.59 440.23,352.43 440.85,352.92 C441.47,353.42 447.91,356.04 448.59,356.27 C449.26,356.51 457.06,358.68 457.73,358.85 C458.41,359.03 464.75,360.53 465.47,360.66 C466.19,360.78 474.75,361.86 475.78,361.95 C476.81,362.03 490.01,362.68 491.25,362.72 C492.49,362.76 505.27,362.99 506.72,362.98 C508.16,362.97 525.69,362.52 527.34,362.46 C528.99,362.4 546.31,361.51 547.96,361.43 C549.61,361.35 566.89,360.47 568.59,360.4 C570.29,360.33 589.62,359.66 590.5,359.62" fill="none" stroke="#000" stroke-width="3.3" stroke-linejoin="round"/>
<path d="M66.71,389.53 C66.86,388.72 67.67,384.13 68,382.57 C68.33,381 69.13,377.21 69.55,376.12 C69.97,375.04 71.19,373.29 71.61,373.29 C72.03,373.29 72.83,375.04 73.16,376.12 C73.49,377.21 74.14,381 74.44,382.57 C74.75,384.13 75.58,388.72 75.73,389.53 L75.73,390.7 L66.71,390.7 Z" fill="#ff0000" fill-opacity="0.4" stroke="none"/>
<path d="M174.47,389.53 C174.68,388.72 175.85,384.13 176.28,382.57 C176.7,381 177.66,377.27 178.08,376.12 C178.5,374.98 179.46,373.1 179.88,372.77 C180.31,372.44 181.33,372.75 181.69,373.29 C182.05,373.83 182.68,376.33 182.98,377.41 C183.28,378.5 183.97,382.51 184.27,382.57 C184.57,382.63 185.23,378.98 185.56,377.93 C185.89,376.88 186.71,374.15 187.1,373.55 C187.49,372.94 188.49,372.47 188.91,372.77 C189.33,373.07 190.29,374.98 190.71,376.12 C191.13,377.27 192.07,381 192.52,382.57 C192.97,384.13 194.34,388.72 194.58,389.53 L194.58,390.7 L174.47,390.7 Z" fill="#ff0000" fill-opacity="0.4" stroke="none"/>
<path d="M208.51,389.53 C208.72,388.72 209.86,384.13 210.31,382.57 C210.76,381 211.89,377.18 212.37,376.12 C212.86,375.07 213.96,373.82 214.44,373.55 C214.92,373.28 216.08,373.29 216.5,373.8 C216.92,374.32 217.65,376.91 218.05,377.93 C218.44,378.95 219.46,382.63 219.85,382.57 C220.24,382.51 221.01,378.44 221.4,377.41 C221.79,376.39 222.75,374.22 223.2,373.8 C223.65,373.38 224.78,373.32 225.26,373.8 C225.75,374.29 226.85,376.76 227.33,377.93 C227.81,379.1 228.91,382.5 229.39,383.86 C229.87,385.21 231.21,388.87 231.45,389.53 L231.45,390.7 L208.51,390.7 Z" fill="#ff0000" fill-opacity="0.4" stroke="none"/>
<path d="M284.56,389.53 C284.74,388.12 285.68,380.33 286.1,377.41 C286.53,374.5 287.63,367.53 288.17,364.52 C288.71,361.52 290.14,354.19 290.75,351.63 C291.35,349.08 292.69,344.26 293.32,342.61 C293.95,340.96 295.47,338.15 296.16,337.45 C296.85,336.76 298.59,336.35 299.25,336.68 C299.91,337.01 301.32,339 301.83,340.29 C302.34,341.58 303.27,346.14 303.63,347.77 C304,349.39 304.62,354.51 304.92,354.21 C305.22,353.91 305.76,346.93 306.21,345.19 C306.66,343.44 308.1,340.16 308.79,339.26 C309.48,338.36 311.3,337.39 312.14,337.45 C312.98,337.51 315.11,338.87 316.01,339.77 C316.91,340.68 318.97,343.65 319.88,345.19 C320.78,346.72 322.84,350.97 323.74,352.92 C324.65,354.88 326.71,359.75 327.61,361.95 C328.51,364.14 330.57,369.64 331.48,371.74 C332.38,373.85 334.44,378.28 335.34,379.99 C336.25,381.71 338.16,384.93 339.21,386.44 C340.26,387.94 343.16,391.23 344.37,392.88 C345.57,394.54 348.92,399.71 349.52,400.61 L349.52,390.7 L284.56,390.7 Z" fill="#ff0000" fill-opacity="0.4" stroke="none"/>
<path d="M341.34,389.53 L342.37,374.84 L343.92,361.95 L345.98,352.92 L349.33,345.19 L353.2,341.32 L357.07,341.32 L359.65,343.9 L361.19,349.06 L362.22,361.43 L363,361.43 L363.77,349.06 L366.09,342.87 L369.96,341.32 L375.11,341.84 L380.27,345.19 L384.14,351.63 L388,360.66 L391.87,369.16 L397.03,373.29 L402.18,376.9 L407.34,381.02 L405.8,381.2 L409.7,384.3 L412.5,386.8 L414.3,388.6 L415.5,389.8 L415.5,390.7 L341.34,390.7 Z" fill="#ff0000" fill-opacity="0.4" stroke="none"/>
<path d="M440.4,389.8 L441.3,386.6 L443.3,383.9 L445.6,382.6 L447.8,382.3 L450,382.7 L451.8,383.4 L453,383.4 L454,379.5 L455.1,375.4 L456.3,371 L457.6,367.4 L459,363.6 L461,359.8 L463.4,356.3 L466.8,352.6 L470,349.6 L473.5,346.1 L477.9,344.3 L481.4,344.7 L484.9,346.9 L487.5,350.4 L489.6,356.6 L490.3,347.8 L490.8,339.2 L491.3,339.2 L491.8,347.8 L492.4,363.6 L493.7,356.6 L495.4,350.4 L498,347.5 L501.5,346.4 L505,346.9 L507.7,347.5 L509.4,345.2 L512,341.7 L515.6,337.3 L519.1,331.2 L522.6,323.3 L526.1,316.3 L529.6,310.1 L533.1,305.4 L536.6,301.9 L540.1,299.1 L543.6,297.5 L547.1,297 L550.6,297.5 L554.1,299.6 L556.7,303.1 L558.5,307.5 L559.7,312.8 L560.8,318 L561.8,307.5 L562.5,291.8 L563.1,290.6 L563.7,291 L564.6,295.3 L565.5,305.8 L567.2,303.1 L570.7,299.6 L574.2,295.3 L576.9,291.8 L578.9,285.9 L584.1,279.4 L587.9,274.8 L592,270 L592,390.7 L440.4,390.7 Z" fill="#ff0000" fill-opacity="0.4" stroke="none"/>
<path d="M428.9,389.8 L429.3,383.8 L429.8,389.8 L429.8,390.7 L428.9,390.7 Z" fill="#ff0000" fill-opacity="0.4" stroke="none"/>
<path d="M66.71,351.63 C66.86,351.33 67.7,349.63 68,349.06 C68.3,348.48 68.93,347.1 69.29,346.73 C69.65,346.37 70.67,345.75 71.09,345.96 C71.51,346.17 72.51,347.13 72.9,348.54 C73.29,349.95 74.08,355.31 74.44,358.08 C74.81,360.85 75.63,369.25 75.99,372.26 C76.35,375.26 77.21,381.84 77.54,383.86 C77.87,385.87 78.68,388.87 78.83,389.53 L78.83,390.7 L66.71,390.7 Z" fill="#0000ff" fill-opacity="0.4" stroke="none"/>
<path d="M84.5,389.53 C84.68,388.87 85.62,385.27 86.05,383.86 C86.47,382.44 87.51,379.07 88.11,377.41 C88.71,375.76 90.39,371.3 91.2,369.68 C92.01,368.05 94.17,364.51 95.07,363.49 C95.97,362.47 98.18,361.24 98.94,360.91 C99.69,360.58 101.09,361.2 101.51,360.66 C101.93,360.11 102.21,357.03 102.54,356.27 C102.88,355.52 103.96,353.79 104.35,354.21 C104.74,354.63 105.48,358.68 105.9,359.88 C106.32,361.09 107.42,363.32 107.96,364.52 C108.5,365.73 109.94,368.75 110.54,370.19 C111.14,371.64 112.54,375.3 113.11,376.9 C113.69,378.49 114.92,382.38 115.43,383.86 C115.95,385.33 117.26,388.87 117.5,389.53 L117.5,390.7 L84.5,390.7 Z" fill="#0000ff" fill-opacity="0.4" stroke="none"/>
<path d="M127.81,389.53 C127.96,389.08 128.77,386.32 129.1,385.66 C129.43,385 130.31,383.8 130.65,383.86 C130.98,383.92 131.66,385.7 131.93,386.18 C132.2,386.66 132.69,388.07 132.97,387.98 C133.24,387.89 133.89,385.77 134.25,385.4 C134.62,385.04 135.67,384.68 136.06,384.89 C136.45,385.1 137.24,386.67 137.61,387.21 C137.97,387.75 138.97,389.26 139.15,389.53 L139.15,390.7 L127.81,390.7 Z" fill="#0000ff" fill-opacity="0.4" stroke="none"/>
<path d="M430,389.8 C430.09,389.51 430.53,387.8 430.8,387.3 C431.07,386.8 431.9,385.8 432.3,385.5 C432.7,385.2 433.8,384.81 434.2,384.7 C434.6,384.59 435.35,384.6 435.7,384.6 C436.05,384.6 436.8,384.59 437.2,384.7 C437.6,384.81 438.7,385.2 439.1,385.5 C439.5,385.8 440.34,386.8 440.6,387.3 C440.86,387.8 441.22,389.51 441.3,389.8 L441.3,390.7 L430,390.7 Z" fill="#0000ff" fill-opacity="0.4" stroke="none"/>
<path d="M450.4,389.8 C450.53,389.54 451.14,388.04 451.5,387.6 C451.86,387.16 452.93,386.27 453.5,386 C454.07,385.73 455.72,385.3 456.4,385.3 C457.08,385.3 458.73,385.73 459.3,386 C459.87,386.27 460.95,387.16 461.3,387.6 C461.65,388.04 462.18,389.54 462.3,389.8 L462.3,390.7 L450.4,390.7 Z" fill="#0000ff" fill-opacity="0.4" stroke="none"/>
<path d="M141.21,389.53 L145.34,382.57 L150.5,372.26 L155.65,361.95 L160.81,352.92 L165.96,345.19 L169.83,338.23 L172.15,328.43 L173.96,314.25 L176.02,293.63 L178.34,278.16 L180.92,271.97 L183.75,271.2 L185.81,273.78 L187.88,271.2 L190.71,271.97 L193.29,276.36 L195.61,285.12 L198.19,298.01 L200,318.12 L202.58,331.01 L205.16,343.9 L207.73,356.27 L210.31,364.52 L212.89,370.19 L215.47,359.88 L219.33,344.41 L224.49,328.95 L229.65,317.09 L236.09,306.78 L242.54,300.85 L248.98,298.27 L253.11,297.5 L254.65,292.6 L257.23,291.05 L259.81,293.63 L261.87,296.46 L263.93,292.34 L266.51,293.63 L268.32,292.34 L270.89,294.4 L273.21,297.75 L279.92,298.78 L286.36,302.65 L292.81,309.1 L299.25,318.12 L305.7,329.72 L310.85,338.74 L316.01,349.06 L321.17,359.37 L325,367.6 L326.8,371.7 L328.5,372.8 L330.2,373.2 L332.6,376.1 L335.2,381.3 L337.7,386.4 L339.8,389.8 L339.8,390.7 L141.21,390.7 Z" fill="#0000ff" fill-opacity="0.4" stroke="none"/>
</g>
<g clip-path="url(#cc)">
<path d="M119.8,635.2 L160,559.7 L183.2,599.9 L258.5,575.1 L316,516 L362.6,458.9 L408.7,447.9 L478,423.3 L530.3,510.8" fill="none" stroke="#000" stroke-width="2.8" stroke-linejoin="round"/>
<line x1="119.8" y1="632.4" x2="119.8" y2="638" stroke="#000" stroke-width="2.8"/>
<line x1="111.6" y1="632.4" x2="128" y2="632.4" stroke="#000" stroke-width="1.9"/>
<line x1="111.6" y1="638" x2="128" y2="638" stroke="#000" stroke-width="1.9"/>
<line x1="160" y1="556.7" x2="160" y2="562.7" stroke="#000" stroke-width="2.8"/>
<line x1="151.8" y1="556.7" x2="168.2" y2="556.7" stroke="#000" stroke-width="1.9"/>
<line x1="151.8" y1="562.7" x2="168.2" y2="562.7" stroke="#000" stroke-width="1.9"/>
<line x1="183.2" y1="596.5" x2="183.2" y2="603.3" stroke="#000" stroke-width="2.8"/>
<line x1="175" y1="596.5" x2="191.4" y2="596.5" stroke="#000" stroke-width="1.9"/>
<line x1="175" y1="603.3" x2="191.4" y2="603.3" stroke="#000" stroke-width="1.9"/>
<line x1="258.5" y1="572.1" x2="258.5" y2="578.1" stroke="#000" stroke-width="2.8"/>
<line x1="250.3" y1="572.1" x2="266.7" y2="572.1" stroke="#000" stroke-width="1.9"/>
<line x1="250.3" y1="578.1" x2="266.7" y2="578.1" stroke="#000" stroke-width="1.9"/>
<line x1="316" y1="512.8" x2="316" y2="519.2" stroke="#000" stroke-width="2.8"/>
<line x1="307.8" y1="512.8" x2="324.2" y2="512.8" stroke="#000" stroke-width="1.9"/>
<line x1="307.8" y1="519.2" x2="324.2" y2="519.2" stroke="#000" stroke-width="1.9"/>
<line x1="362.6" y1="455.9" x2="362.6" y2="461.9" stroke="#000" stroke-width="2.8"/>
<line x1="354.4" y1="455.9" x2="370.8" y2="455.9" stroke="#000" stroke-width="1.9"/>
<line x1="354.4" y1="461.9" x2="370.8" y2="461.9" stroke="#000" stroke-width="1.9"/>
<line x1="408.7" y1="443.1" x2="408.7" y2="452.7" stroke="#000" stroke-width="2.8"/>
<line x1="400.5" y1="443.1" x2="416.9" y2="443.1" stroke="#000" stroke-width="1.9"/>
<line x1="400.5" y1="452.7" x2="416.9" y2="452.7" stroke="#000" stroke-width="1.9"/>
<line x1="478" y1="418.6" x2="478" y2="428" stroke="#000" stroke-width="2.8"/>
<line x1="469.8" y1="418.6" x2="486.2" y2="418.6" stroke="#000" stroke-width="1.9"/>
<line x1="469.8" y1="428" x2="486.2" y2="428" stroke="#000" stroke-width="1.9"/>
<line x1="530.3" y1="504.2" x2="530.3" y2="517.4" stroke="#000" stroke-width="2.8"/>
<line x1="522.1" y1="504.2" x2="538.5" y2="504.2" stroke="#000" stroke-width="1.9"/>
<line x1="522.1" y1="517.4" x2="538.5" y2="517.4" stroke="#000" stroke-width="1.9"/>
</g>
<path d="M119.8,446.8 L160,405.9 L183.2,518.2 L258.5,588.5 L316,560.1 L362.6,516.2 L408.7,521.3 L478,498 L530.3,628.2" fill="none" stroke="#ff0000" stroke-width="2.8" stroke-linejoin="round"/>
<line x1="119.8" y1="443" x2="119.8" y2="450.6" stroke="#ff0000" stroke-width="2.8"/>
<line x1="111.6" y1="443" x2="128" y2="443" stroke="#ff0000" stroke-width="1.9"/>
<line x1="111.6" y1="450.6" x2="128" y2="450.6" stroke="#ff0000" stroke-width="1.9"/>
<line x1="160" y1="401.7" x2="160" y2="410.1" stroke="#ff0000" stroke-width="2.8"/>
<line x1="151.8" y1="401.7" x2="168.2" y2="401.7" stroke="#ff0000" stroke-width="1.9"/>
<line x1="151.8" y1="410.1" x2="168.2" y2="410.1" stroke="#ff0000" stroke-width="1.9"/>
<line x1="183.2" y1="514.2" x2="183.2" y2="522.2" stroke="#ff0000" stroke-width="2.8"/>
<line x1="175" y1="514.2" x2="191.4" y2="514.2" stroke="#ff0000" stroke-width="1.9"/>
<line x1="175" y1="522.2" x2="191.4" y2="522.2" stroke="#ff0000" stroke-width="1.9"/>
<line x1="258.5" y1="583.5" x2="258.5" y2="593.5" stroke="#ff0000" stroke-width="2.8"/>
<line x1="250.3" y1="583.5" x2="266.7" y2="583.5" stroke="#ff0000" stroke-width="1.9"/>
<line x1="250.3" y1="593.5" x2="266.7" y2="593.5" stroke="#ff0000" stroke-width="1.9"/>
<line x1="316" y1="554.1" x2="316" y2="566.1" stroke="#ff0000" stroke-width="2.8"/>
<line x1="307.8" y1="554.1" x2="324.2" y2="554.1" stroke="#ff0000" stroke-width="1.9"/>
<line x1="307.8" y1="566.1" x2="324.2" y2="566.1" stroke="#ff0000" stroke-width="1.9"/>
<line x1="362.6" y1="512.7" x2="362.6" y2="519.7" stroke="#ff0000" stroke-width="2.8"/>
<line x1="354.4" y1="512.7" x2="370.8" y2="512.7" stroke="#ff0000" stroke-width="1.9"/>
<line x1="354.4" y1="519.7" x2="370.8" y2="519.7" stroke="#ff0000" stroke-width="1.9"/>
<line x1="408.7" y1="516.9" x2="408.7" y2="525.7" stroke="#ff0000" stroke-width="2.8"/>
<line x1="400.5" y1="516.9" x2="416.9" y2="516.9" stroke="#ff0000" stroke-width="1.9"/>
<line x1="400.5" y1="525.7" x2="416.9" y2="525.7" stroke="#ff0000" stroke-width="1.9"/>
<line x1="478" y1="493.8" x2="478" y2="502.2" stroke="#ff0000" stroke-width="2.8"/>
<line x1="469.8" y1="493.8" x2="486.2" y2="493.8" stroke="#ff0000" stroke-width="1.9"/>
<line x1="469.8" y1="502.2" x2="486.2" y2="502.2" stroke="#ff0000" stroke-width="1.9"/>
<line x1="530.3" y1="620.7" x2="530.3" y2="635.7" stroke="#ff0000" stroke-width="2.8"/>
<line x1="522.1" y1="620.7" x2="538.5" y2="620.7" stroke="#ff0000" stroke-width="1.9"/>
<line x1="522.1" y1="635.7" x2="538.5" y2="635.7" stroke="#ff0000" stroke-width="1.9"/>
<circle cx="119.8" cy="635.2" r="4.9" fill="#332288" stroke="#000" stroke-width="1.5"/>
<circle cx="160" cy="559.7" r="4.9" fill="#88CCEE" stroke="#000" stroke-width="1.5"/>
<circle cx="183.2" cy="599.9" r="4.9" fill="#44AA99" stroke="#000" stroke-width="1.5"/>
<circle cx="258.5" cy="575.1" r="4.9" fill="#117733" stroke="#000" stroke-width="1.5"/>
<circle cx="316" cy="516" r="4.9" fill="#999933" stroke="#000" stroke-width="1.5"/>
<circle cx="362.6" cy="458.9" r="4.9" fill="#DDCC77" stroke="#000" stroke-width="1.5"/>
<circle cx="408.7" cy="447.9" r="4.9" fill="#CC6677" stroke="#000" stroke-width="1.5"/>
<circle cx="478" cy="423.3" r="4.9" fill="#882255" stroke="#000" stroke-width="1.5"/>
<circle cx="530.3" cy="510.8" r="4.9" fill="#AA4499" stroke="#000" stroke-width="1.5"/>
<circle cx="119.8" cy="446.8" r="4.9" fill="#332288" stroke="#ff0000" stroke-width="1.5"/>
<circle cx="160" cy="405.9" r="4.9" fill="#88CCEE" stroke="#ff0000" stroke-width="1.5"/>
<circle cx="183.2" cy="518.2" r="4.9" fill="#44AA99" stroke="#ff0000" stroke-width="1.5"/>
<circle cx="258.5" cy="588.5" r="4.9" fill="#117733" stroke="#ff0000" stroke-width="1.5"/>
<circle cx="316" cy="560.1" r="4.9" fill="#999933" stroke="#ff0000" stroke-width="1.5"/>
<circle cx="362.6" cy="516.2" r="4.9" fill="#DDCC77" stroke="#ff0000" stroke-width="1.5"/>
<circle cx="408.7" cy="521.3" r="4.9" fill="#CC6677" stroke="#ff0000" stroke-width="1.5"/>
<circle cx="478" cy="498" r="4.9" fill="#882255" stroke="#ff0000" stroke-width="1.5"/>
<circle cx="530.3" cy="628.2" r="4.9" fill="#AA4499" stroke="#ff0000" stroke-width="1.5"/>
<rect x="68.15" y="47.05" width="519.7" height="171.5" fill="none" stroke="#161616" stroke-width="1.4"/>
<rect x="68.15" y="218.55" width="519.7" height="171.65" fill="none" stroke="#161616" stroke-width="1.4"/>
<rect x="68.15" y="390.2" width="519.7" height="257" fill="none" stroke="#161616" stroke-width="1.4"/>
<line x1="108.57" y1="47.05" x2="108.57" y2="41.05" stroke="#000" stroke-width="1.4"/>
<line x1="108.57" y1="647.2" x2="108.57" y2="653.2" stroke="#000" stroke-width="1.4"/>
<line x1="166.32" y1="47.05" x2="166.32" y2="41.05" stroke="#000" stroke-width="1.4"/>
<line x1="166.32" y1="647.2" x2="166.32" y2="653.2" stroke="#000" stroke-width="1.4"/>
<line x1="224.06" y1="47.05" x2="224.06" y2="41.05" stroke="#000" stroke-width="1.4"/>
<line x1="224.06" y1="647.2" x2="224.06" y2="653.2" stroke="#000" stroke-width="1.4"/>
<line x1="281.8" y1="47.05" x2="281.8" y2="41.05" stroke="#000" stroke-width="1.4"/>
<line x1="281.8" y1="647.2" x2="281.8" y2="653.2" stroke="#000" stroke-width="1.4"/>
<line x1="339.55" y1="47.05" x2="339.55" y2="41.05" stroke="#000" stroke-width="1.4"/>
<line x1="339.55" y1="647.2" x2="339.55" y2="653.2" stroke="#000" stroke-width="1.4"/>
<line x1="397.29" y1="47.05" x2="397.29" y2="41.05" stroke="#000" stroke-width="1.4"/>
<line x1="397.29" y1="647.2" x2="397.29" y2="653.2" stroke="#000" stroke-width="1.4"/>
<line x1="455.04" y1="47.05" x2="455.04" y2="41.05" stroke="#000" stroke-width="1.4"/>
<line x1="455.04" y1="647.2" x2="455.04" y2="653.2" stroke="#000" stroke-width="1.4"/>
<line x1="512.78" y1="47.05" x2="512.78" y2="41.05" stroke="#000" stroke-width="1.4"/>
<line x1="512.78" y1="647.2" x2="512.78" y2="653.2" stroke="#000" stroke-width="1.4"/>
<line x1="570.53" y1="47.05" x2="570.53" y2="41.05" stroke="#000" stroke-width="1.4"/>
<line x1="570.53" y1="647.2" x2="570.53" y2="653.2" stroke="#000" stroke-width="1.4"/>
<line x1="68.15" y1="218.55" x2="62.15" y2="218.55" stroke="#000" stroke-width="1.4"/>
<line x1="68.15" y1="179.7" x2="62.15" y2="179.7" stroke="#000" stroke-width="1.4"/>
<line x1="68.15" y1="140.85" x2="62.15" y2="140.85" stroke="#000" stroke-width="1.4"/>
<line x1="68.15" y1="102" x2="62.15" y2="102" stroke="#000" stroke-width="1.4"/>
<line x1="68.15" y1="63.15" x2="62.15" y2="63.15" stroke="#000" stroke-width="1.4"/>
<line x1="68.15" y1="390.2" x2="62.15" y2="390.2" stroke="#000" stroke-width="1.4"/>
<line x1="68.15" y1="355.52" x2="62.15" y2="355.52" stroke="#000" stroke-width="1.4"/>
<line x1="68.15" y1="320.84" x2="62.15" y2="320.84" stroke="#000" stroke-width="1.4"/>
<line x1="68.15" y1="286.16" x2="62.15" y2="286.16" stroke="#000" stroke-width="1.4"/>
<line x1="68.15" y1="251.48" x2="62.15" y2="251.48" stroke="#000" stroke-width="1.4"/>
<line x1="587.85" y1="390.2" x2="593.85" y2="390.2" stroke="#000" stroke-width="1.4"/>
<line x1="587.85" y1="348.9" x2="593.85" y2="348.9" stroke="#000" stroke-width="1.4"/>
<line x1="587.85" y1="307.6" x2="593.85" y2="307.6" stroke="#000" stroke-width="1.4"/>
<line x1="587.85" y1="266.3" x2="593.85" y2="266.3" stroke="#000" stroke-width="1.4"/>
<line x1="587.85" y1="225" x2="593.85" y2="225" stroke="#000" stroke-width="1.4"/>
<line x1="68.15" y1="626.3" x2="62.15" y2="626.3" stroke="#000" stroke-width="1.4"/>
<line x1="68.15" y1="574.8" x2="62.15" y2="574.8" stroke="#000" stroke-width="1.4"/>
<line x1="68.15" y1="523.3" x2="62.15" y2="523.3" stroke="#000" stroke-width="1.4"/>
<line x1="68.15" y1="471.8" x2="62.15" y2="471.8" stroke="#000" stroke-width="1.4"/>
<line x1="68.15" y1="420.3" x2="62.15" y2="420.3" stroke="#000" stroke-width="1.4"/>
<line x1="587.85" y1="631.3" x2="593.85" y2="631.3" stroke="#ff0000" stroke-width="1.4"/>
<line x1="587.85" y1="588.75" x2="593.85" y2="588.75" stroke="#ff0000" stroke-width="1.4"/>
<line x1="587.85" y1="546.2" x2="593.85" y2="546.2" stroke="#ff0000" stroke-width="1.4"/>
<line x1="587.85" y1="503.65" x2="593.85" y2="503.65" stroke="#ff0000" stroke-width="1.4"/>
<line x1="587.85" y1="461.1" x2="593.85" y2="461.1" stroke="#ff0000" stroke-width="1.4"/>
<line x1="587.85" y1="418.55" x2="593.85" y2="418.55" stroke="#ff0000" stroke-width="1.4"/>
<rect x="335.7" y="224.8" width="246.5" height="58.5" rx="2.6" fill="#fff" fill-opacity="0.92" stroke="#1a1a1a" stroke-width="1.3"/>
<line x1="339.8" y1="234.3" x2="365.2" y2="234.3" stroke="#000" stroke-width="3.6"/>
<line x1="339.8" y1="253.2" x2="365.2" y2="253.2" stroke="#ff9999" stroke-width="1.7"/>
<line x1="339.8" y1="271.7" x2="365.2" y2="271.7" stroke="#9999ff" stroke-width="1.7"/>
<rect x="219.2" y="395.8" width="165.6" height="38" rx="2.6" fill="#fff" fill-opacity="0.92" stroke="#1a1a1a" stroke-width="1.3"/>
<line x1="221.8" y1="405.2" x2="248.3" y2="405.2" stroke="#000" stroke-width="2.6"/>
<line x1="235.8" y1="399.6" x2="235.8" y2="410.8" stroke="#000" stroke-width="2.6"/>
<line x1="227.5" y1="399.6" x2="244.1" y2="399.6" stroke="#000" stroke-width="1.7"/>
<line x1="227.5" y1="410.8" x2="244.1" y2="410.8" stroke="#000" stroke-width="1.7"/>
<circle cx="235.8" cy="405.2" r="3.4" fill="#000"/>
<line x1="221.8" y1="422.2" x2="248.3" y2="422.2" stroke="#ff0000" stroke-width="2.6"/>
<line x1="235.8" y1="416.6" x2="235.8" y2="427.8" stroke="#ff0000" stroke-width="2.6"/>
<line x1="227.5" y1="416.6" x2="244.1" y2="416.6" stroke="#ff0000" stroke-width="1.7"/>
<line x1="227.5" y1="427.8" x2="244.1" y2="427.8" stroke="#ff0000" stroke-width="1.7"/>
<circle cx="235.8" cy="422.2" r="3.4" fill="#ff0000"/>
<g opacity="0.999">
<text x="120.5" y="61.3" font-size="13.4" text-anchor="middle" fill="#332288">B8</text>
<text x="161.5" y="61.3" font-size="13.4" text-anchor="middle" fill="#88CCEE">B9</text>
<text x="185.5" y="61.3" font-size="13.4" text-anchor="middle" fill="#44AA99">B10</text>
<text x="259.5" y="61.3" font-size="13.4" text-anchor="middle" fill="#117733">B11</text>
<text x="316.5" y="61.3" font-size="13.4" text-anchor="middle" fill="#999933">B12</text>
<text x="363" y="61.3" font-size="13.4" text-anchor="middle" fill="#DDCC77">B13</text>
<text x="409.5" y="61.3" font-size="13.4" text-anchor="middle" fill="#CC6677">B14</text>
<text x="479" y="61.3" font-size="13.4" text-anchor="middle" fill="#882255">B15</text>
<text x="531" y="61.3" font-size="13.4" text-anchor="middle" fill="#AA4499">B16</text>
<text x="108.57" y="31.6" font-size="15.8" text-anchor="middle" fill="#000">6</text>
<text x="108.57" y="670.6" font-size="15.8" text-anchor="middle" fill="#000">6</text>
<text x="166.32" y="31.6" font-size="15.8" text-anchor="middle" fill="#000">7</text>
<text x="166.32" y="670.6" font-size="15.8" text-anchor="middle" fill="#000">7</text>
<text x="224.06" y="31.6" font-size="15.8" text-anchor="middle" fill="#000">8</text>
<text x="224.06" y="670.6" font-size="15.8" text-anchor="middle" fill="#000">8</text>
<text x="281.8" y="31.6" font-size="15.8" text-anchor="middle" fill="#000">9</text>
<text x="281.8" y="670.6" font-size="15.8" text-anchor="middle" fill="#000">9</text>
<text x="339.55" y="31.6" font-size="15.8" text-anchor="middle" fill="#000">10</text>
<text x="339.55" y="670.6" font-size="15.8" text-anchor="middle" fill="#000">10</text>
<text x="397.29" y="31.6" font-size="15.8" text-anchor="middle" fill="#000">11</text>
<text x="397.29" y="670.6" font-size="15.8" text-anchor="middle" fill="#000">11</text>
<text x="455.04" y="31.6" font-size="15.8" text-anchor="middle" fill="#000">12</text>
<text x="455.04" y="670.6" font-size="15.8" text-anchor="middle" fill="#000">12</text>
<text x="512.78" y="31.6" font-size="15.8" text-anchor="middle" fill="#000">13</text>
<text x="512.78" y="670.6" font-size="15.8" text-anchor="middle" fill="#000">13</text>
<text x="570.53" y="31.6" font-size="15.8" text-anchor="middle" fill="#000">14</text>
<text x="570.53" y="670.6" font-size="15.8" text-anchor="middle" fill="#000">14</text>
<text x="327.8" y="12.7" font-size="16.85" text-anchor="middle" fill="#000">Wavelength (µm)</text>
<text x="327.8" y="692.8" font-size="16.85" text-anchor="middle" fill="#000">Wavelength (µm)</text>
<text x="55.55" y="224.15" font-size="15.8" text-anchor="end" fill="#000">0.00</text>
<text x="55.55" y="185.3" font-size="15.8" text-anchor="end" fill="#000">0.25</text>
<text x="55.55" y="146.45" font-size="15.8" text-anchor="end" fill="#000">0.50</text>
<text x="55.55" y="107.6" font-size="15.8" text-anchor="end" fill="#000">0.75</text>
<text x="55.55" y="68.75" font-size="15.8" text-anchor="end" fill="#000">1.00</text>
<text x="55.55" y="395.8" font-size="15.8" text-anchor="end" fill="#000">0.0</text>
<text x="55.55" y="361.12" font-size="15.8" text-anchor="end" fill="#000">0.2</text>
<text x="55.55" y="326.44" font-size="15.8" text-anchor="end" fill="#000">0.4</text>
<text x="55.55" y="291.76" font-size="15.8" text-anchor="end" fill="#000">0.6</text>
<text x="55.55" y="257.08" font-size="15.8" text-anchor="end" fill="#000">0.8</text>
<text x="600.75" y="399.55" font-size="15.8" text-anchor="start">10<tspan dx="0.9" dy="-12.5" font-size="11.8">−25</tspan></text>
<text x="600.75" y="358.25" font-size="15.8" text-anchor="start">10<tspan dx="0.9" dy="-12.5" font-size="11.8">−23</tspan></text>
<text x="600.75" y="316.95" font-size="15.8" text-anchor="start">10<tspan dx="0.9" dy="-12.5" font-size="11.8">−21</tspan></text>
<text x="600.75" y="275.65" font-size="15.8" text-anchor="start">10<tspan dx="0.9" dy="-12.5" font-size="11.8">−19</tspan></text>
<text x="600.75" y="234.35" font-size="15.8" text-anchor="start">10<tspan dx="0.9" dy="-12.5" font-size="11.8">−17</tspan></text>
<text x="55.55" y="631.9" font-size="15.8" text-anchor="end" fill="#000">1.0</text>
<text x="55.55" y="580.4" font-size="15.8" text-anchor="end" fill="#000">1.5</text>
<text x="55.55" y="528.9" font-size="15.8" text-anchor="end" fill="#000">2.0</text>
<text x="55.55" y="477.4" font-size="15.8" text-anchor="end" fill="#000">2.5</text>
<text x="55.55" y="425.9" font-size="15.8" text-anchor="end" fill="#000">3.0</text>
<text x="599.95" y="636.9" font-size="15.8" text-anchor="start" fill="#ff0000">220</text>
<text x="599.95" y="594.35" font-size="15.8" text-anchor="start" fill="#ff0000">225</text>
<text x="599.95" y="551.8" font-size="15.8" text-anchor="start" fill="#ff0000">230</text>
<text x="599.95" y="509.25" font-size="15.8" text-anchor="start" fill="#ff0000">235</text>
<text x="599.95" y="466.7" font-size="15.8" text-anchor="start" fill="#ff0000">240</text>
<text x="599.95" y="424.15" font-size="15.8" text-anchor="start" fill="#ff0000">245</text>
<text x="70.9" y="67.6" font-size="21.0" text-anchor="start" fill="#000">(a)</text>
<text x="70.9" y="239.4" font-size="21.0" text-anchor="start" fill="#000">(b)</text>
<text x="70.9" y="410.7" font-size="21.0" text-anchor="start" fill="#000">(c)</text>
<text x="14.5" y="133.6" font-size="16.85" text-anchor="middle" fill="#000" transform="rotate(-90 14.5 133.6)">Response</text>
<text x="21.2" y="304.2" font-size="16.85" text-anchor="middle" fill="#000" transform="rotate(-90 21.2 304.2)">Extinction coefficient</text>
<text x="21.1" y="519.7" font-size="16.85" text-anchor="middle" letter-spacing="0.13" transform="rotate(-90 21.1 519.7)">Radiance (W/m<tspan dy="-6.8" font-size="11.8">2</tspan><tspan dy="6.8">/sr/µm)</tspan></text>
<text x="656.6" y="307" font-size="16.85" text-anchor="middle" fill="#000" transform="rotate(-90 656.6 307)">Line intensity</text>
<text x="679.8" y="394" font-size="16.85" text-anchor="start" fill="#000" letter-spacing="0" transform="rotate(-90 679.8 394)">(cm</text>
<text x="673" y="360.8" font-size="11.8" text-anchor="start" fill="#000" letter-spacing="0" transform="rotate(-90 673 360.8)">−</text>
<text x="673" y="351.4" font-size="11.8" text-anchor="start" fill="#000" letter-spacing="0" transform="rotate(-90 673 351.4)">1</text>
<text x="679.8" y="339.8" font-size="16.85" text-anchor="start" fill="#000" letter-spacing="0" transform="rotate(-90 679.8 339.8)">/</text>
<text x="679.8" y="328.5" font-size="16.85" text-anchor="start" fill="#000" letter-spacing="0.3" transform="rotate(-90 679.8 328.5)">molecule</text>
<text x="679.8" y="254.3" font-size="16.85" text-anchor="start" fill="#000" letter-spacing="0" transform="rotate(-90 679.8 254.3)">cm</text>
<text x="673" y="232.1" font-size="11.8" text-anchor="start" fill="#000" letter-spacing="0" transform="rotate(-90 673 232.1)">−</text>
<text x="673" y="224.8" font-size="11.8" text-anchor="start" fill="#000" letter-spacing="0" transform="rotate(-90 673 224.8)">2</text>
<text x="679.8" y="213.8" font-size="16.85" text-anchor="start" fill="#000" letter-spacing="0" transform="rotate(-90 679.8 213.8)">)</text>
<text x="645.8" y="519.4" font-size="16.85" text-anchor="middle" fill="#ff0000" transform="rotate(-90 645.8 519.4)" letter-spacing="0.07">Brightness temperature (K)</text>
<text x="374.3" y="238.6" font-size="11.93">Extinction coefficient of H<tspan dy="3.0" font-size="8.6">2</tspan><tspan dy="-3.0">SO</tspan><tspan dy="3.0" font-size="8.6">4</tspan><tspan dy="-3.0"> aerosol</tspan></text>
<text x="374.3" y="257.4" font-size="11.93">Line intensity of CO<tspan dy="3.0" font-size="8.6">2</tspan></text>
<text x="374.3" y="276.0" font-size="11.93">Line intensity of SO<tspan dy="3.0" font-size="8.6">2</tspan></text>
<text x="256.5" y="409.5" font-size="11.93" text-anchor="start" fill="#000">Radiance</text>
<text x="256.5" y="426.4" font-size="11.93" text-anchor="start" fill="#000">Brightness temperature</text>
</g>
</svg>
</body>
</html>
